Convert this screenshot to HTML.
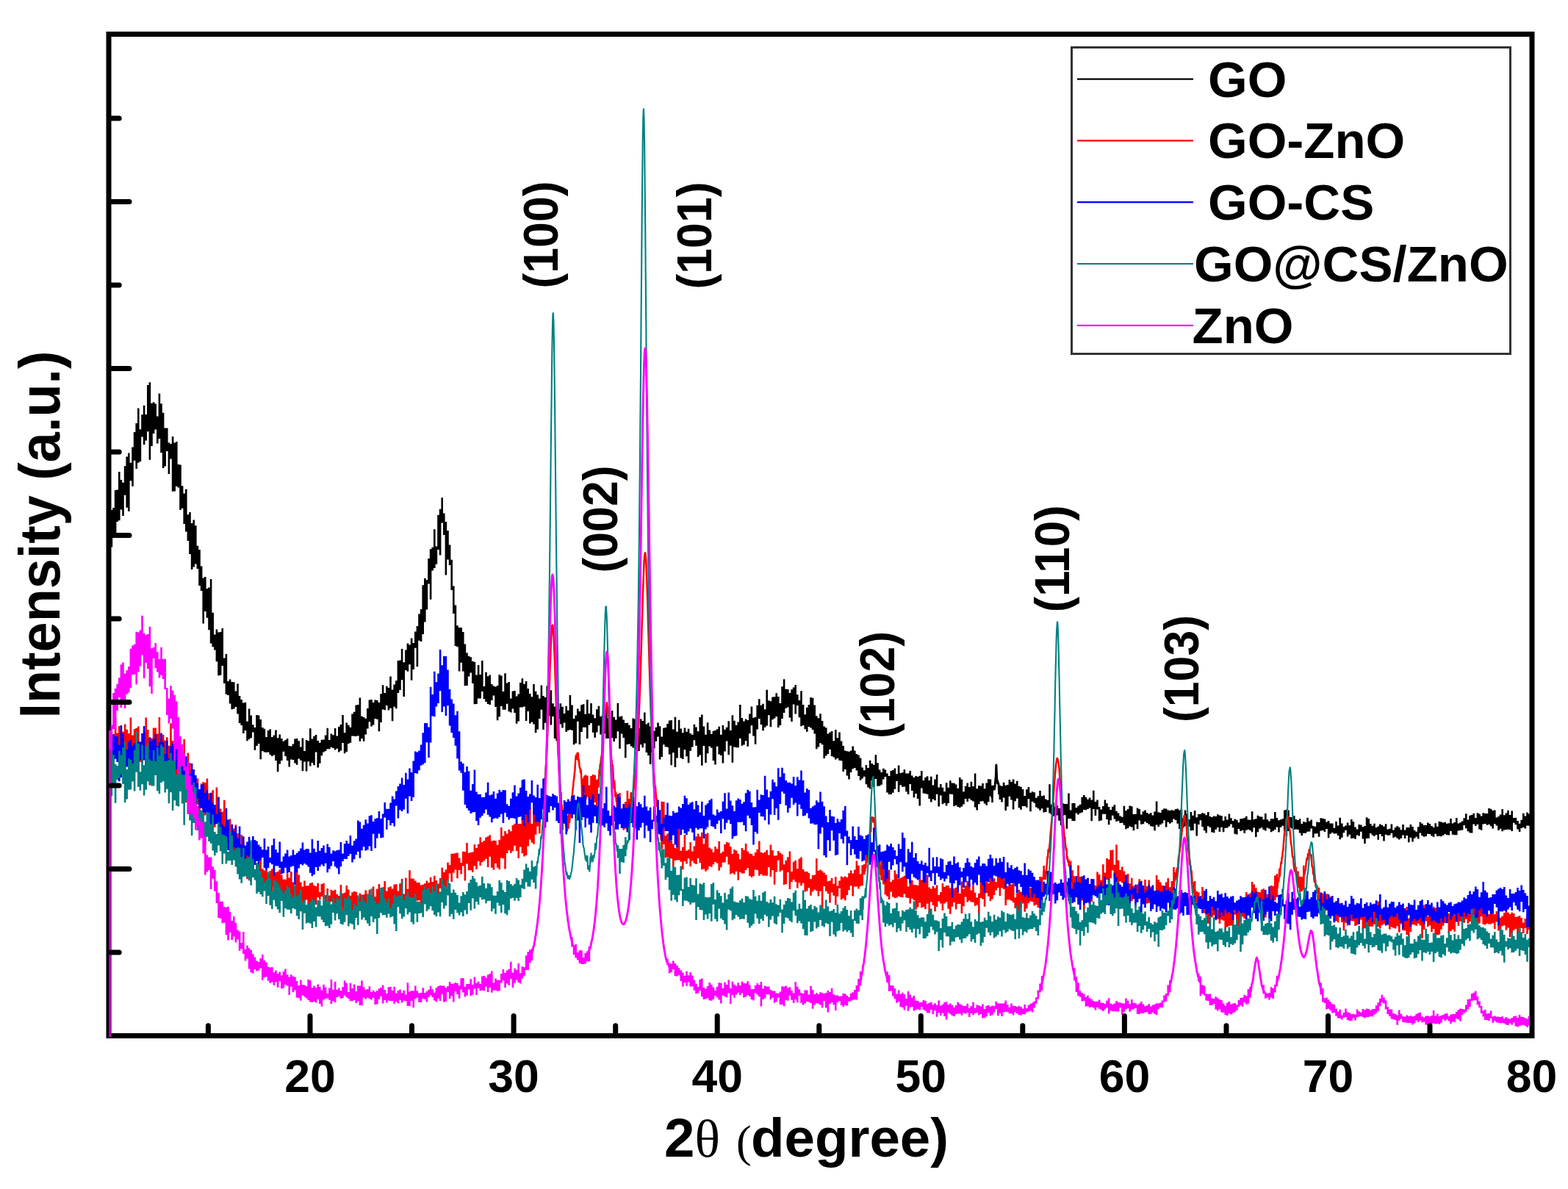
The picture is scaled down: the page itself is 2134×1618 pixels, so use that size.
<!DOCTYPE html><html><head><meta charset="utf-8"><title>XRD patterns of GO, GO-ZnO, GO-CS, GO@CS/ZnO and ZnO</title><style>html,body{margin:0;padding:0;background:#fff;overflow:hidden}svg{display:block}text{font-family:'Liberation Sans', Arial, Helvetica, sans-serif;font-weight:bold;fill:#000}</style></head><body>
<svg width="2134" height="1618" viewBox="0 0 2134 1618">
<rect x="0" y="0" width="2134" height="1618" fill="#fff"/>
<rect x="148" y="46.5" width="1937" height="1363" fill="none" stroke="#000" stroke-width="7"/>
<path fill="#000000" d="M148 697.1H150.6V694.1H153.2V691.1H155.8V666.9H158.4V666.4H161V642.1H163.6V652.9H166.2V656.7H168.8V634.3H171.4V621.6H174V616.6H176.6V629.8H179.2V608.4H181.8V588.1H184.4V576.1H187V555.4H189.6V584.2H192.2V564.2H194.8V551.7H197.4V563.9H200V524.1H202.6V520.2H205.2V548.7H207.8V547.3H210.4V549.5H213V566.6H215.6V535.5H218.2V549.2H220.8V561.8H223.4V582.5H226V582.4H228.6V602.2H231.2V604H233.8V593.9H236.4V602.5H239V601H241.6V632H244.2V632.6H246.8V661.2H249.4V671.6H252V665.7H254.6V700.3H257.2V696.9H259.8V711.9H262.4V707.6H265V715.3H267.6V742.8H270.2V747.9H272.8V770.5H275.4V786.6H278V784.9H280.6V800.9H283.2V799.5H285.8V788H288.4V833.8H291V863.4H293.6V856.6H296.2V860.4H298.8V860H301.4V855.1H304V895.4H306.6V889.9H309.2V927.1H311.8V924.4H314.4V927.9H317V928.2H319.6V940.6H322.2V930.4H324.8V947.1H327.4V951.9H330V956.4H332.6V955.7H335.2V981.7H337.8V964.6H340.4V973.5H343V986.3H345.6V990.1H348.2V973H350.8V973.5H353.4V979.1H356V989.9H358.6V991.8H361.2V1003.1H363.8V993.9H366.4V992.2H369V1003H371.6V1000.5H374.2V993.4H376.8V1004.3H379.4V999.4H382V1005.1H384.6V1008.7H387.2V1007.1H389.8V1004.9H392.4V1014.9H395V1015.6H397.6V1012.4H400.2V1005.6H402.8V1004.9H405.4V1008.2H408V1016.6H410.6V1004.5H413.2V1021.9H415.8V1007H418.4V1008.3H421V991.3H423.6V1005.6H426.2V1001.7H428.8V1000H431.4V1008.1H434V1010.8H436.6V1006.7H439.2V1006.5H441.8V1000.5H444.4V990.8H447V1006.9H449.6V998.5H452.2V1000.2H454.8V991H457.4V1001.5H460V989H462.6V986.1H465.2V973H467.8V997.3H470.4V983.4H473V986.8H475.6V989.7H478.2V971.4H480.8V968.8H483.4V959.6H486V958.9H488.6V949.6H491.2V974.7H493.8V975.9H496.4V977.7H499V964.1H501.6V952.5H504.2V952H506.8V956.1H509.4V952.6H512V953.1H514.6V956H517.2V944.2H519.8V932.2H522.4V943H525V933.8H527.6V935.9H530.2V920.4H532.8V938.5H535.4V931.6H538V926.3H540.6V899H543.2V898.6H545.8V883.1H548.4V901.3H551V884.6H553.6V875.6H556.2V877.5H558.8V868.4H561.4V874.9H564V859.6H566.6V851.9H569.2V835.5H571.8V828.9H574.4V796.2H577V786.9H579.6V789.3H582.2V760.1H584.8V747.3H587.4V744.7H590V720.3H592.6V743.6H595.2V700.7H597.8V692.8H600.4V677.3H603V698.6H605.6V710.1H608.2V722.1H610.8V741.4H613.4V761.8H616V797.4H618.6V823.6H621.2V851.2H623.8V854H626.4V854H629V860.1H631.6V876.4H634.2V888.4H636.8V892.8H639.4V894.3H642V899.8H644.6V900.7H647.2V918.5H649.8V905H652.4V917.9H655V899H657.6V934H660.2V914.8H662.8V920.3H665.4V918.6H668V930.9H670.6V933.6H673.2V934.5H675.8V933.1H678.4V918.1H681V919.5H683.6V940.9H686.2V916.2H688.8V929.4H691.4V928.1H694V950.5H696.6V940.6H699.2V939.9H701.8V947.6H704.4V944.6H707V928.9H709.6V923.3H712.2V930.8H714.8V926.9H717.4V937.1H720V944.1H722.6V948.2H725.2V931H727.8V940.7H730.4V945.4H733V950.4H735.6V932.5H738.2V946.9H740.8V949.1H743.4V933.6H746V941.3H748.6V939.3H751.2V957.3H753.8V961.4H756.4V951.3H759V965.2H761.6V957.3H764.2V961.8H766.8V971H769.4V960.8H772V966.7H774.6V946.1H777.2V959.4H779.8V978H782.4V973.4H785V964.6H787.6V968H790.2V959.3H792.8V958.2H795.4V971.7H798V952.2H800.6V970.9H803.2V957.1H805.8V972.4H808.4V977.2H811V965.3H813.6V960.8H816.2V974.9H818.8V973.5H821.4V965.4H824V965.7H826.6V977.3H829.2V993H831.8V967.1H834.4V975.8H837V979.5H839.6V956.8H842.2V975.2H844.8V974.5H847.4V979.6H850V984H852.6V983.8H855.2V986.8H857.8V991H860.4V977.5H863V978.5H865.6V995.9H868.2V991H870.8V978.2H873.4V981.1H876V969.6H878.6V985.4H881.2V983.6H883.8V988.6H886.4V989.6H889V994.7H891.6V989.8H894.2V983.4H896.8V988.2H899.4V1002.6H902V990.7H904.6V990H907.2V984.9H909.8V980.5H912.4V979.9H915V992.6H917.6V975.8H920.2V995.7H922.8V979.7H925.4V991.4H928V997.3H930.6V990.6H933.2V995.8H935.8V991.7H938.4V998.1H941V999.8H943.6V985.7H946.2V989.4H948.8V995.3H951.4V975.9H954V972.6H956.6V988.6H959.2V999.8H961.8V983.2H964.4V993.6H967V998.8H969.6V994.8H972.2V994.1H974.8V992.3H977.4V988.7H980V999.8H982.6V987H985.2V992.8H987.8V989.7H990.4V981.3H993V994.1H995.6V973.2H998.2V980.7H1000.8V986.8H1003.4V982.5H1006V959.1H1008.6V977.1H1011.2V981.4H1013.8V978.4H1016.4V980.1H1019V971.6H1021.6V961.6H1024.2V976.7H1026.8V975.8H1029.4V959.7H1032V951.3H1034.6V959.7H1037.2V957.7H1039.8V965.2H1042.4V938.8H1045V953.3H1047.6V954.2H1050.2V948.4H1052.8V948.3H1055.4V943.2H1058V948.1H1060.6V956.9H1063.2V934.3H1065.8V924.3H1068.4V937.7H1071V938.1H1073.6V942.9H1076.2V938.3H1078.8V935.4H1081.4V932H1084V945.3H1086.6V952.9H1089.2V940.3H1091.8V959H1094.4V972.2H1097V962.8H1099.6V958.9H1102.2V949H1104.8V949.7H1107.4V959.5H1110V974.3H1112.6V977.3H1115.2V971.2H1117.8V980.9H1120.4V988.5H1123V990.3H1125.6V998.5H1128.2V996.4H1130.8V995.1H1133.4V1008.3H1136V993.1H1138.6V1004.3H1141.2V996.5H1143.8V1008.5H1146.4V1015.1H1149V1021.6H1151.6V1022.3H1154.2V1022.8H1156.8V1021.5H1159.4V1015.6H1162V1021.5H1164.6V1026H1167.2V1027.6H1169.8V1031.6H1172.4V1044.4H1175V1048.2H1177.6V1041H1180.2V1044.9H1182.8V1034.7H1185.4V1038.9H1188V1040.8H1190.6V1027.2H1193.2V1038.2H1195.8V1047.6H1198.4V1050.9H1201V1045.8H1203.6V1047.6H1206.2V1052.5H1208.8V1056.1H1211.4V1049H1214V1048.1H1216.6V1045.5H1219.2V1053.2H1221.8V1041.6H1224.4V1051.9H1227V1051.3H1229.6V1047.2H1232.2V1052.6H1234.8V1052.5H1237.4V1049.1H1240V1055.6H1242.6V1058.1H1245.2V1056H1247.8V1056.9H1250.4V1055.7H1253V1048.9H1255.6V1061.9H1258.2V1058H1260.8V1056.3H1263.4V1061.9H1266V1056.7H1268.6V1068.4H1271.2V1060.5H1273.8V1053.9H1276.4V1071.6H1279V1067H1281.6V1071.8H1284.2V1077.3H1286.8V1065.2H1289.4V1071.8H1292V1062.3H1294.6V1065.4H1297.2V1065.8H1299.8V1067.5H1302.4V1072.8H1305V1058H1307.6V1060.7H1310.2V1077.3H1312.8V1069.7H1315.4V1065.5H1318V1071H1320.6V1063.8H1323.2V1070.1H1325.8V1052.6H1328.4V1073.2H1331V1069H1333.6V1069.4H1336.2V1066.1H1338.8V1073.3H1341.4V1065.5H1344V1060.3H1346.6V1060.4H1349.2V1068.7H1351.8V1091.9H1349.2V1083.6H1346.6V1091.2H1344V1095.8H1341.4V1093.5H1338.8V1090.3H1336.2V1090.5H1333.6V1094.2H1331V1102.5H1328.4V1098.5H1325.8V1090.6H1323.2V1089H1320.6V1086.8H1318V1091H1315.4V1087H1312.8V1094.4H1310.2V1097.4H1307.6V1099H1305V1098.1H1302.4V1095.7H1299.8V1096.9H1297.2V1081.1H1294.6V1080.6H1292V1093.1H1289.4V1096.4H1286.8V1092.7H1284.2V1094.3H1281.6V1082.4H1279V1097.5H1276.4V1080.7H1273.8V1089.2H1271.2V1087.5H1268.6V1091.5H1266V1086.9H1263.4V1080.7H1260.8V1080H1258.2V1079.6H1255.6V1072.4H1253V1096.4H1250.4V1087H1247.8V1080H1245.2V1085.3H1242.6V1076.1H1240V1067.1H1237.4V1080.9H1234.8V1077.3H1232.2V1070.6H1229.6V1070.8H1227V1068.2H1224.4V1077.8H1221.8V1063.1H1219.2V1073.7H1216.6V1078.8H1214V1081H1211.4V1081H1208.8V1078.5H1206.2V1057H1203.6V1060.5H1201V1067.7H1198.4V1069.5H1195.8V1069.7H1193.2V1059.9H1190.6V1071H1188V1062.2H1185.4V1073.6H1182.8V1071.4H1180.2V1067.2H1177.6V1056.8H1175V1059.6H1172.4V1061.8H1169.8V1055.9H1167.2V1048.6H1164.6V1044.9H1162V1046.2H1159.4V1051.1H1156.8V1060.4H1154.2V1055.4H1151.6V1046.9H1149V1050.1H1146.4V1035.3H1143.8V1034.7H1141.2V1031.7H1138.6V1033.5H1136V1030.5H1133.4V1028.9H1130.8V1020.1H1128.2V1025.9H1125.6V1028.6H1123V1032.1H1120.4V1013.2H1117.8V1011.3H1115.2V1016.5H1112.6V1019.3H1110V998.6H1107.4V993.1H1104.8V990.6H1102.2V988.9H1099.6V995.7H1097V992.2H1094.4V987.1H1091.8V988.2H1089.2V976.2H1086.6V960H1084V971.5H1081.4V958.5H1078.8V982H1076.2V976.6H1073.6V962.6H1071V963.7H1068.4V969.9H1065.8V977.9H1063.2V986.9H1060.6V990.1H1058V974.9H1055.4V977.5H1052.8V979.2H1050.2V989.2H1047.6V973.2H1045V987.5H1042.4V989.7H1039.8V994.3H1037.2V986.1H1034.6V977.9H1032V992.5H1029.4V1012.8H1026.8V1001.4H1024.2V987.2H1021.6V998.2H1019V1015.7H1016.4V1008.2H1013.8V1013.5H1011.2V1014.8H1008.6V1004.8H1006V1017.3H1003.4V1017.2H1000.8V1016.6H998.2V1037.7H995.6V1014.8H993V1027.2H990.4V1008.5H987.8V1022.4H985.2V1038.6H982.6V1027.9H980V1026.4H977.4V1015.8H974.8V1040.6H972.2V1035.1H969.6V1017.7H967V1015.4H964.4V1025.3H961.8V1038H959.2V1014.9H956.6V1041.8H954V1027.6H951.4V1030.1H948.8V1014.7H946.2V1007.3H943.6V1016.6H941V1021.7H938.4V1038.2H935.8V1029.2H933.2V1020.3H930.6V1032.9H928V1031.5H925.4V1017.5H922.8V1031.5H920.2V1044H917.6V1024.3H915V1041.3H912.4V1026.4H909.8V1016.8H907.2V1016.2H904.6V1013.2H902V1030.1H899.4V1033.6H896.8V1002.5H894.2V1008.8H891.6V1018.4H889V1023.6H886.4V1039.9H883.8V1028.1H881.2V1024.1H878.6V1011.6H876V1017.3H873.4V1013.2H870.8V1022H868.2V1021.8H865.6V1019.5H863V1017.5H860.4V1015.4H857.8V1012.6H855.2V1013.1H852.6V1031.3H850V1004.1H847.4V998.6H844.8V1018.7H842.2V995.2H839.6V1004.7H837V1009.1H834.4V1004.3H831.8V1007H829.2V1004.7H826.6V1004.9H824V997.9H821.4V1010.2H818.8V999.5H816.2V987.6H813.6V996.5H811V1003.7H808.4V996.7H805.8V984H803.2V986.6H800.6V1005H798V989.7H795.4V989.7H792.8V996H790.2V1012.9H787.6V981.8H785V1011.4H782.4V1013.3H779.8V993.7H777.2V992.9H774.6V994.1H772V995.9H769.4V983.6H766.8V990.6H764.2V985.4H761.6V978.2H759V1008.3H756.4V1005H753.8V974.9H751.2V986.4H748.6V974H746V989.3H743.4V983.8H740.8V992.9H738.2V965.8H735.6V978H733V992.4H730.4V997.2H727.8V985.6H725.2V982.5H722.6V984.5H720V968H717.4V981.1H714.8V961.6H712.2V962.6H709.6V962.6H707V981.5H704.4V984.8H701.8V969.9H699.2V964.5H696.6V969.6H694V968.2H691.4V957.8H688.8V965.7H686.2V965.8H683.6V961H681V975.3H678.4V980.3H675.8V962H673.2V946.5H670.6V952.9H668V958.9H665.4V958.1H662.8V955.1H660.2V951.2H657.6V940.9H655V950.6H652.4V950.4H649.8V958H647.2V958.3H644.6V929.9H642V915.5H639.4V920.5H636.8V932.9H634.2V933.2H631.6V913.5H629V901.7H626.4V913.4H623.8V880.3H621.2V878.9H618.6V835H616V803.1H613.4V769.1H610.8V761.6H608.2V782.5H605.6V727.9H603V711.6H600.4V755.4H597.8V748H595.2V767.7H592.6V773.1H590V776.6H587.4V815.8H584.8V794.5H582.2V829.5H579.6V846.6H577V863H574.4V873.1H571.8V871.7H569.2V907.3H566.6V881.7H564V910.9H561.4V925.7H558.8V904.3H556.2V913.8H553.6V911.9H551V948H548.4V925.2H545.8V938.9H543.2V943.1H540.6V964.2H538V961.7H535.4V981.2H532.8V963.7H530.2V966.6H527.6V960.1H525V966.2H522.4V965.5H519.8V983.1H517.2V995.2H514.6V978.8H512V978.1H509.4V986.5H506.8V988.6H504.2V982.2H501.6V991.6H499V999.6H496.4V1008.8H493.8V1004.9H491.2V1008.8H488.6V1001.3H486V1002.1H483.4V1001.8H480.8V1001.4H478.2V1010.8H475.6V1011.9H473V1023H470.4V1025.2H467.8V1010.9H465.2V1021.4H462.6V1023.5H460V1018.8H457.4V1020.4H454.8V1018H452.2V1016.7H449.6V1019.2H447V1019.2H444.4V1022.1H441.8V1023.6H439.2V1028.2H436.6V1038.8H434V1044.6H431.4V1023.6H428.8V1041.2H426.2V1037.9H423.6V1042.5H421V1036.3H418.4V1049.5H415.8V1036.5H413.2V1049.3H410.6V1034.8H408V1032.5H405.4V1040.8H402.8V1038.6H400.2V1033.9H397.6V1033.5H395V1043.4H392.4V1035.1H389.8V1029.1H387.2V1022.8H384.6V1034.9H382V1039.4H379.4V1050.2H376.8V1035.1H374.2V1027.4H371.6V1029.1H369V1027.1H366.4V1023.6H363.8V1024H361.2V1023.4H358.6V1022H356V1033.3H353.4V1011.9H350.8V1015H348.2V1020.8H345.6V996.6H343V1004.2H340.4V1006H337.8V1008.3H335.2V994.1H332.6V997.9H330V987.1H327.4V984H324.8V971.6H322.2V962H319.6V964.4H317V965.2H314.4V957.4H311.8V946.1H309.2V944.7H306.6V929.9H304V905.9H301.4V918.7H298.8V919.3H296.2V900.2H293.6V884.4H291V880.3H288.4V875.6H285.8V857.3H283.2V840.8H280.6V832H278V848.6H275.4V804.1H272.8V797.1H270.2V773.9H267.6V767.5H265V771.6H262.4V775.1H259.8V754H257.2V736H254.6V723.5H252V713.1H249.4V691.7H246.8V693.9H244.2V663.5H241.6V661.8H239V668.6H236.4V668.7H233.8V624.4H231.2V645H228.6V614H226V634.6H223.4V636.9H220.8V616H218.2V597.1H215.6V603.5H213V584.4H210.4V590.1H207.8V607.1H205.2V625.7H202.6V587.2H200V599.4H197.4V605H194.8V594.4H192.2V627.9H189.6V629.7H187V637.9H184.4V626.7H181.8V661.7H179.2V654.3H176.6V695.7H174V690.7H171.4V673.7H168.8V702H166.2V693.4H163.6V708.2H161V710.1H158.4V726.5H155.8V725H153.2V744.5H150.6V725H148ZM1359.6 1068.8H1362.2V1069.8H1364.8V1064.7H1367.4V1068.7H1370V1067.9H1372.6V1061H1375.2V1064H1377.8V1060.5H1380.4V1066.4H1383V1062.7H1385.6V1069.8H1388.2V1070.7H1390.8V1074H1393.4V1083.1H1396V1074.2H1398.6V1070.9H1401.2V1078.7H1403.8V1077.2H1406.4V1078.2H1409V1085.7H1411.6V1083.3H1414.2V1076H1416.8V1083.2H1419.4V1082.6H1422V1087.5H1424.6V1088.8H1427.2V1067.3H1429.8V1094.8H1432.4V1092.1H1435V1098.3H1437.6V1095.9H1440.2V1100H1442.8V1100.1H1445.4V1093.3H1448V1093.9H1450.6V1093.9H1453.2V1079.5H1455.8V1102.5H1458.4V1093H1461V1093.1H1463.6V1099.3H1466.2V1096.7H1468.8V1094.8H1471.4V1084.8H1474V1081.9H1476.6V1084.8H1479.2V1087.8H1481.8V1085.5H1484.4V1088.6H1487V1075.8H1489.6V1091.1H1492.2V1088.6H1494.8V1098H1497.4V1101.4H1500V1096.9H1502.6V1088.6H1505.2V1093.2H1507.8V1098H1510.4V1101.9H1513V1097.7H1515.6V1095.3H1518.2V1103.8H1520.8V1106.6H1523.4V1110.6H1526V1111.7H1528.6V1096.8H1531.2V1103.3H1533.8V1100.9H1536.4V1096.4H1539V1097.2H1541.6V1108H1544.2V1107.8H1546.8V1099.6H1549.4V1101.1H1552V1108.5H1554.6V1104.3H1557.2V1102.5H1559.8V1106H1562.4V1107.5H1565V1106.3H1567.6V1109.6H1570.2V1104.6H1572.8V1090.6H1575.4V1105.3H1578V1106H1580.6V1101.9H1583.2V1100.2H1585.8V1100.5H1588.4V1102.5H1591V1102.9H1593.6V1102.2H1596.2V1103H1598.8V1101.1H1601.4V1100.6H1604V1102.6H1606.6V1101.1H1609.2V1113.7H1611.8V1102.4H1614.4V1107.6H1617V1115.2H1619.6V1105.1H1622.2V1109.8H1624.8V1102.9H1627.4V1112.2H1630V1107.9H1632.6V1107.7H1635.2V1106.3H1637.8V1107.1H1640.4V1109.3H1643V1105H1645.6V1111H1648.2V1111.9H1650.8V1110.4H1653.4V1111.1H1656V1108.3H1658.6V1109.4H1661.2V1110.2H1663.8V1116.8H1666.4V1111H1669V1115.5H1671.6V1107.6H1674.2V1113.2H1676.8V1116.9H1679.4V1114.6H1682V1115.8H1684.6V1119.3H1687.2V1114.3H1689.8V1114.1H1692.4V1112.9H1695V1110.8H1697.6V1115.6H1700.2V1115.7H1702.8V1104.2H1705.4V1115H1708V1114.2H1710.6V1109.7H1713.2V1111.3H1715.8V1111.5H1718.4V1115.2H1721V1107.1H1723.6V1115.3H1726.2V1117.4H1728.8V1114.1H1731.4V1114.3H1734V1104.9H1736.6V1112.9H1739.2V1116.2H1741.8V1115.3H1744.4V1114.3H1747V1102.5H1749.6V1101.8H1752.2V1102.5H1754.8V1111.9H1757.4V1112.1H1760V1110.2H1762.6V1115H1765.2V1116.1H1767.8V1114.3H1770.4V1121H1773V1118H1775.6V1119H1778.2V1112.8H1780.8V1117.5H1783.4V1115.5H1786V1123.9H1788.6V1124.8H1791.2V1118.5H1793.8V1119H1796.4V1113.3H1799V1113.8H1801.6V1114.5H1804.2V1118.4H1806.8V1117.1H1809.4V1120.4H1812V1120.4H1814.6V1126.8H1817.2V1118.1H1819.8V1123.4H1822.4V1112.8H1825V1120.5H1827.6V1124.9H1830.2V1123.5H1832.8V1119.6H1835.4V1123.2H1838V1114.9H1840.6V1118H1843.2V1125.5H1845.8V1128.5H1848.4V1122.1H1851V1122.4H1853.6V1125.2H1856.2V1124H1858.8V1112.2H1861.4V1114H1864V1121H1866.6V1123.8H1869.2V1120.7H1871.8V1126H1874.4V1124.6H1877V1121.4H1879.6V1122.7H1882.2V1124.7H1884.8V1121.3H1887.4V1128.5H1890V1127.7H1892.6V1121.5H1895.2V1129.6H1897.8V1126.1H1900.4V1124.1H1903V1125.7H1905.6V1129.2H1908.2V1122H1910.8V1129.6H1913.4V1126H1916V1126H1918.6V1122H1921.2V1125.1H1923.8V1129.8H1926.4V1131.8H1929V1125.2H1931.6V1118.7H1934.2V1120.8H1936.8V1123H1939.4V1122.9H1942V1119.6H1944.6V1121H1947.2V1123.9H1949.8V1126H1952.4V1120.2H1955V1124.8H1957.6V1117.8H1960.2V1118.6H1962.8V1119.5H1965.4V1118.7H1968V1120.7H1970.6V1120.3H1973.2V1114.1H1975.8V1120.4H1978.4V1119.1H1981V1112.9H1983.6V1120.5H1986.2V1119.3H1988.8V1117.4H1991.4V1113.2H1994V1107.2H1996.6V1115.4H1999.2V1109.7H2001.8V1109.1H2004.4V1106.7H2007V1113H2009.6V1106.2H2012.2V1107.6H2014.8V1110.4H2017.4V1106.2H2020V1106.9H2022.6V1107H2025.2V1100H2027.8V1100.7H2030.4V1102.9H2033V1102.6H2035.6V1112.6H2038.2V1111.1H2040.8V1108.6H2043.4V1100.9H2046V1109.3H2048.6V1106.6H2051.2V1102.7H2053.8V1109H2056.4V1103.6H2059V1112.9H2061.6V1112.7H2064.2V1116.9H2066.8V1120.7H2069.4V1115.7H2072V1106.8H2074.6V1110.4H2077.2V1105.6H2079.8V1107.4H2082V1123.8H2079.8V1123.5H2077.2V1127.4H2074.6V1125.8H2072V1127H2069.4V1131.9H2066.8V1128.5H2064.2V1122.2H2061.6V1119.8H2059V1131.1H2056.4V1129H2053.8V1128.7H2051.2V1129H2048.6V1129.5H2046V1131.2H2043.4V1127.7H2040.8V1130.1H2038.2V1123.4H2035.6V1121.3H2033V1127.4H2030.4V1124.2H2027.8V1122.1H2025.2V1122.7H2022.6V1121.1H2020V1121.6H2017.4V1129.8H2014.8V1128.5H2012.2V1121.7H2009.6V1123.9H2007V1121.6H2004.4V1133.5H2001.8V1133.3H1999.2V1131.2H1996.6V1127.3H1994V1122.9H1991.4V1129.4H1988.8V1130.1H1986.2V1130.6H1983.6V1136.2H1981V1136.2H1978.4V1135.8H1975.8V1130.9H1973.2V1136.5H1970.6V1136.2H1968V1134.9H1965.4V1136.7H1962.8V1138.2H1960.2V1137.8H1957.6V1138.1H1955V1134.7H1952.4V1139.1H1949.8V1137.5H1947.2V1134.9H1944.6V1134.8H1942V1138H1939.4V1138.7H1936.8V1137.3H1934.2V1133.4H1931.6V1141.6H1929V1138.8H1926.4V1140.7H1923.8V1145.6H1921.2V1139.7H1918.6V1146.2H1916V1137H1913.4V1140.9H1910.8V1136.6H1908.2V1140.8H1905.6V1142.4H1903V1140.7H1900.4V1138.7H1897.8V1140.1H1895.2V1133.8H1892.6V1136.4H1890V1136.7H1887.4V1135.8H1884.8V1144.6H1882.2V1138.1H1879.6V1135H1877V1142.7H1874.4V1136.1H1871.8V1138H1869.2V1136.5H1866.6V1134.1H1864V1140.8H1861.4V1140.9H1858.8V1147.9H1856.2V1141.6H1853.6V1131.8H1851V1137.4H1848.4V1136.4H1845.8V1141.8H1843.2V1140.4H1840.6V1141.1H1838V1135.8H1835.4V1138.4H1832.8V1129.7H1830.2V1133.2H1827.6V1139.7H1825V1142.3H1822.4V1137.1H1819.8V1134.2H1817.2V1134.4H1814.6V1133.1H1812V1134.7H1809.4V1140.3H1806.8V1128.1H1804.2V1132.1H1801.6V1130.1H1799V1130.5H1796.4V1138.8H1793.8V1134.3H1791.2V1134.5H1788.6V1139.7H1786V1127.4H1783.4V1131.4H1780.8V1131.7H1778.2V1133.7H1775.6V1133.7H1773V1136.9H1770.4V1133.4H1767.8V1128.9H1765.2V1128.5H1762.6V1129H1760V1127.6H1757.4V1126.3H1754.8V1130.9H1752.2V1137.5H1749.6V1130.9H1747V1123.7H1744.4V1125.7H1741.8V1132.4H1739.2V1125.6H1736.6V1129.1H1734V1130.8H1731.4V1132.3H1728.8V1127.8H1726.2V1126.5H1723.6V1130.6H1721V1129.1H1718.4V1126.2H1715.8V1127.6H1713.2V1132.3H1710.6V1139H1708V1126.3H1705.4V1132.2H1702.8V1130H1700.2V1128.8H1697.6V1129.7H1695V1133.8H1692.4V1129.7H1689.8V1130.9H1687.2V1127.9H1684.6V1135.5H1682V1134.7H1679.4V1126.2H1676.8V1121.4H1674.2V1124.4H1671.6V1126.4H1669V1126.7H1666.4V1132.2H1663.8V1125.7H1661.2V1132H1658.6V1125.9H1656V1128.8H1653.4V1133.3H1650.8V1132.6H1648.2V1125.9H1645.6V1124.3H1643V1133.6H1640.4V1130.3H1637.8V1125H1635.2V1116.2H1632.6V1121.9H1630V1137.6H1627.4V1120.7H1624.8V1130H1622.2V1130.2H1619.6V1125.1H1617V1124.3H1614.4V1124.3H1611.8V1126.3H1609.2V1131.6H1606.6V1128H1604V1120.7H1601.4V1115.9H1598.8V1114.6H1596.2V1118.9H1593.6V1120.8H1591V1118.7H1588.4V1125.5H1585.8V1116.3H1583.2V1120.6H1580.6V1122.3H1578V1125.1H1575.4V1122.5H1572.8V1130.2H1570.2V1124.7H1567.6V1124.2H1565V1121.7H1562.4V1120.1H1559.8V1118.3H1557.2V1121.2H1554.6V1121.7H1552V1116.4H1549.4V1128H1546.8V1121.7H1544.2V1130.2H1541.6V1125.6H1539V1124.4H1536.4V1127.1H1533.8V1128.2H1531.2V1122.7H1528.6V1119.8H1526V1120.1H1523.4V1117H1520.8V1118.1H1518.2V1114.6H1515.6V1109.8H1513V1116.2H1510.4V1122.3H1507.8V1115H1505.2V1107.7H1502.6V1107.7H1500V1116.5H1497.4V1117.3H1494.8V1101.6H1492.2V1110H1489.6V1101.1H1487V1117.2H1484.4V1099.5H1481.8V1100.9H1479.2V1102.3H1476.6V1102.1H1474V1105.6H1471.4V1106.4H1468.8V1108.5H1466.2V1106.6H1463.6V1117.3H1461V1117H1458.4V1114.1H1455.8V1114.1H1453.2V1127.8H1450.6V1109.3H1448V1109.8H1445.4V1123H1442.8V1116.7H1440.2V1109.6H1437.6V1109.5H1435V1110.8H1432.4V1108.4H1429.8V1106.4H1427.2V1099H1424.6V1105.1H1422V1105.5H1419.4V1100.2H1416.8V1102.7H1414.2V1100.2H1411.6V1098.6H1409V1092.8H1406.4V1090.8H1403.8V1104.3H1401.2V1087.2H1398.6V1098.8H1396V1097.1H1393.4V1097.1H1390.8V1101.8H1388.2V1099.2H1385.6V1086.4H1383V1090.2H1380.4V1101.4H1377.8V1088.5H1375.2V1083.8H1372.6V1097.6H1370V1102.9H1367.4V1085.5H1364.8V1091.6H1362.2V1087.9H1359.6Z"/>
<polyline fill="none" stroke="#000000" stroke-width="2.8" stroke-linejoin="round" points="1349.6,1085.6 1350.2,1079.2 1350.7,1076.1 1351.3,1073.4 1351.8,1072.6 1352.4,1070.2 1353,1072.5 1353.5,1074.1 1354.1,1070.7 1354.6,1062 1355.2,1057.2 1355.7,1041 1356,1040.9 1356.3,1048.3 1356.8,1059 1357.4,1065.9 1357.9,1062.8 1358.5,1066.4 1359,1066.3 1359.6,1080.2 1360.2,1072.6 1360.7,1077.5 1361.3,1074.1 1361.8,1078.1 1362.4,1085.4"/>
<path fill="#ff0000" d="M148 1005.9H150.6V999.1H153.2V1006.4H155.8V976.8H158.4V997.5H161V988.1H163.6V993.4H166.2V995.7H168.8V985.4H171.4V992.7H174V997.9H176.6V976.5H179.2V1000.4H181.8V991.9H184.4V990.7H187V988.4H189.6V1009.2H192.2V1008.4H194.8V996H197.4V976.5H200V993.1H202.6V1004.4H205.2V1004.6H207.8V990.4H210.4V990.5H213V998.4H215.6V976H218.2V1006.1H220.8V999.8H223.4V1007.6H226V1003.3H228.6V1014.7H231.2V984.2H233.8V1008H236.4V1018.1H239V1019.3H241.6V1013H244.2V1013.6H246.8V1035.3H249.4V1006.1H252V1038.2H254.6V1024.6H257.2V1038.2H259.8V1047.6H262.4V1048.1H265V1058.9H267.6V1059.2H270.2V1081.9H272.8V1066.3H275.4V1064.1H278V1064.9H280.6V1059.4H283.2V1079.4H285.8V1078.7H288.4V1075.2H291V1095.7H293.6V1071.4H296.2V1094.5H298.8V1100.6H301.4V1104.7H304V1088.7H306.6V1121.9H309.2V1124.3H311.8V1114.6H314.4V1135.2H317V1127.6H319.6V1122.3H322.2V1133.9H324.8V1148.8H327.4V1136.1H330V1146.5H332.6V1156.7H335.2V1161.1H337.8V1150.8H340.4V1168.1H343V1167.4H345.6V1157.4H348.2V1174.7H350.8V1176.7H353.4V1168.5H356V1182.3H358.6V1184.4H361.2V1180.8H363.8V1188.5H366.4V1185.1H369V1182.4H371.6V1179.5H374.2V1187H376.8V1186.1H379.4V1183.2H382V1190.8H384.6V1196.4H387.2V1196.7H389.8V1188.3H392.4V1194.6H395V1186.2H397.6V1200.6H400.2V1206.2H402.8V1185.4H405.4V1190.6H408V1200.6H410.6V1206.6H413.2V1198.4H415.8V1205.6H418.4V1204.9H421V1201.7H423.6V1201.1H426.2V1204.7H428.8V1205.9H431.4V1201.8H434V1214H436.6V1202.9H439.2V1201.7H441.8V1218H444.4V1209.1H447V1218.6H449.6V1210.7H452.2V1212.2H454.8V1210.7H457.4V1216.8H460V1218.9H462.6V1203.9H465.2V1215.8H467.8V1214.7H470.4V1205H473V1210.5H475.6V1218.8H478.2V1214.2H480.8V1212.9H483.4V1213.7H486V1222.2H488.6V1215.6H491.2V1217.8H493.8V1217.3H496.4V1211.4H499V1223.7H501.6V1210.7H504.2V1218.4H506.8V1206.6H509.4V1220H512V1209.8H514.6V1203H517.2V1213.2H519.8V1207.2H522.4V1199H525V1212.4H527.6V1207.5H530.2V1206.3H532.8V1209.6H535.4V1203.5H538V1203.2H540.6V1212.6H543.2V1202.3H545.8V1195.9H548.4V1216.6H551V1194.4H553.6V1209.8H556.2V1184.2H558.8V1195.6H561.4V1195.8H564V1198.4H566.6V1201.1H569.2V1201.1H571.8V1204.5H574.4V1203.8H577V1202.2H579.6V1198.4H582.2V1201.2H584.8V1193.7H587.4V1199.9H590V1191.8H592.6V1198.1H595.2V1202.4H597.8V1195H600.4V1180.8H603V1186.9H605.6V1183.4H608.2V1173.8H610.8V1177.2H613.4V1161.7H616V1161.7H618.6V1160.9H621.2V1160.6H623.8V1167.5H626.4V1173.9H629V1158.8H631.6V1159.1H634.2V1146.9H636.8V1160.7H639.4V1159.9H642V1159.4H644.6V1149H647.2V1154.1H649.8V1148.8H652.4V1139.3H655V1146H657.6V1144.1H660.2V1139.5H662.8V1138.3H665.4V1136.3H668V1144.4H670.6V1143.8H673.2V1144H675.8V1149.8H678.4V1142.9H681V1126H683.6V1137.6H686.2V1131H688.8V1134.6H691.4V1128.8H694V1131.3H696.6V1122.9H699.2V1121H701.8V1112H704.4V1121H707V1121H709.6V1114.1H712.2V1121.3H714.8V1104.5H717.4V1107.4H720V1100.4H722.6V1121H725.2V1090H727.8V1102.1H730.4V1091.6H733V1093.9H735.6V1134.3H733V1124.4H730.4V1135.7H727.8V1148.8H725.2V1146.4H722.6V1142.5H720V1151.4H717.4V1164H714.8V1165.4H712.2V1161.3H709.6V1152.5H707V1167.8H704.4V1158H701.8V1150.8H699.2V1158.3H696.6V1160.8H694V1157.1H691.4V1161H688.8V1182.6H686.2V1168.2H683.6V1167.4H681V1183.3H678.4V1180.8H675.8V1174.9H673.2V1183.7H670.6V1180.8H668V1165.8H665.4V1180H662.8V1168.7H660.2V1171.2H657.6V1173.3H655V1178.1H652.4V1171.9H649.8V1182.9H647.2V1178.4H644.6V1187.1H642V1184.2H639.4V1184.3H636.8V1175.6H634.2V1198.5H631.6V1178.6H629V1189.4H626.4V1184H623.8V1195.2H621.2V1183.4H618.6V1187.8H616V1200H613.4V1188.5H610.8V1198.4H608.2V1208.6H605.6V1206.5H603V1211.8H600.4V1209.1H597.8V1216.5H595.2V1215.9H592.6V1217.1H590V1220.1H587.4V1218.4H584.8V1221.9H582.2V1228H579.6V1220.6H577V1229.5H574.4V1234.4H571.8V1225.2H569.2V1225.7H566.6V1224.5H564V1225.9H561.4V1225.5H558.8V1229.3H556.2V1232H553.6V1222.7H551V1229.7H548.4V1228.1H545.8V1229.8H543.2V1230.9H540.6V1226H538V1236.6H535.4V1245.9H532.8V1240.1H530.2V1236.7H527.6V1235.4H525V1238.3H522.4V1245H519.8V1231.8H517.2V1236.4H514.6V1234H512V1235.9H509.4V1237.8H506.8V1242.8H504.2V1241.2H501.6V1245H499V1244.6H496.4V1236.7H493.8V1243.1H491.2V1235.9H488.6V1244.8H486V1234.7H483.4V1252.6H480.8V1247.7H478.2V1247H475.6V1237.3H473V1240H470.4V1235.3H467.8V1248.7H465.2V1234.3H462.6V1234.4H460V1242.1H457.4V1246.1H454.8V1240.5H452.2V1227.1H449.6V1228.7H447V1226.1H444.4V1234.1H441.8V1222.1H439.2V1220.1H436.6V1224.6H434V1221.3H431.4V1231H428.8V1227.8H426.2V1231.2H423.6V1227.2H421V1239.8H418.4V1224.4H415.8V1227.2H413.2V1231.2H410.6V1226.6H408V1220.9H405.4V1227.5H402.8V1219.7H400.2V1221.5H397.6V1233.6H395V1231.4H392.4V1218.2H389.8V1220.2H387.2V1222.5H384.6V1215.4H382V1217.8H379.4V1213.1H376.8V1228.5H374.2V1206.6H371.6V1215.6H369V1217.1H366.4V1214.9H363.8V1211.5H361.2V1205H358.6V1205.8H356V1195.2H353.4V1200.4H350.8V1198.7H348.2V1176.9H345.6V1190.2H343V1200H340.4V1192H337.8V1196.2H335.2V1179.6H332.6V1177.2H330V1169.3H327.4V1180.6H324.8V1170.5H322.2V1170.9H319.6V1168.9H317V1158.8H314.4V1147.9H311.8V1144.6H309.2V1143.4H306.6V1143.9H304V1133.5H301.4V1124.6H298.8V1140.7H296.2V1118.8H293.6V1125.7H291V1118.9H288.4V1135.3H285.8V1106.7H283.2V1100.6H280.6V1109.4H278V1104.3H275.4V1098.6H272.8V1114.3H270.2V1095H267.6V1099.5H265V1086.1H262.4V1073.2H259.8V1078.3H257.2V1079.6H254.6V1092H252V1043.7H249.4V1076.9H246.8V1064.2H244.2V1065.6H241.6V1070.1H239V1059.2H236.4V1035.9H233.8V1045.1H231.2V1048H228.6V1039.4H226V1042.8H223.4V1055.4H220.8V1035.9H218.2V1035.4H215.6V1021.2H213V1017.7H210.4V1025.9H207.8V1029.3H205.2V1068.5H202.6V1036.5H200V1054.7H197.4V1031.2H194.8V1025.5H192.2V1036.7H189.6V1038.4H187V1038.8H184.4V1016.9H181.8V1026.3H179.2V1017.1H176.6V1025.3H174V1026.6H171.4V1032.9H168.8V1036.1H166.2V1023.4H163.6V1048.6H161V1026.3H158.4V1014.6H155.8V1046.1H153.2V1028.5H150.6V1034.4H148ZM795.4 1054.5H798V1055.6H800.6V1068.4H803.2V1055.9H805.8V1053.9H808.4V1054.8H811V1060.8H813.6V1103.3H811V1091.9H808.4V1102.5H805.8V1099.3H803.2V1086.5H800.6V1084.5H798V1096.6H795.4ZM839.6 1085.3H842.2V1079.1H844.8V1100H847.4V1097.9H850V1090.9H852.6V1076H855.2V1087.1H857.8V1109.2H855.2V1131.8H852.6V1127.8H850V1129.6H847.4V1115.7H844.8V1113.8H842.2V1106.1H839.6ZM899.4 1090.8H902V1091.1H904.6V1137.2H907.2V1134.4H909.8V1143.5H912.4V1143.4H915V1148.5H917.6V1154.1H920.2V1154.3H922.8V1121.9H925.4V1157.8H928V1152.8H930.6V1136.1H933.2V1157.7H935.8V1156H938.4V1146.1H941V1158.4H943.6V1151.6H946.2V1138.2H948.8V1134.6H951.4V1138.5H954V1132.8H956.6V1148.6H959.2V1134.8H961.8V1133.6H964.4V1153.4H967V1155.4H969.6V1159.7H972.2V1151.9H974.8V1155.2H977.4V1144.8H980V1161.1H982.6V1158.8H985.2V1148.9H987.8V1146.1H990.4V1146.7H993V1152.1H995.6V1162.1H998.2V1155.9H1000.8V1157.5H1003.4V1161.7H1006V1169.3H1008.6V1154.1H1011.2V1156.8H1013.8V1148.1H1016.4V1158.4H1019V1161.4H1021.6V1162.1H1024.2V1164.7H1026.8V1159.9H1029.4V1155.8H1032V1144.4H1034.6V1159.7H1037.2V1160.7H1039.8V1159.4H1042.4V1156.8H1045V1163.6H1047.6V1149.4H1050.2V1156.9H1052.8V1164.4H1055.4V1164.2H1058V1158H1060.6V1160.5H1063.2V1162.4H1065.8V1176.3H1068.4V1170.7H1071V1166.6H1073.6V1158.6H1076.2V1186H1078.8V1172.7H1081.4V1170.7H1084V1182.3H1086.6V1168.6H1089.2V1166.4H1091.8V1183H1094.4V1186H1097V1186H1099.6V1187.9H1102.2V1196.3H1104.8V1190.9H1107.4V1190.6H1110V1168.3H1112.6V1185H1115.2V1183.6H1117.8V1185.5H1120.4V1187.7H1123V1190.6H1125.6V1199.2H1128.2V1198.4H1130.8V1194.9H1133.4V1202.8H1136V1193.2H1138.6V1205.6H1141.2V1198.6H1143.8V1192.4H1146.4V1193.9H1149V1192.4H1151.6V1194.1H1154.2V1188.3H1156.8V1184.5H1159.4V1188.6H1162V1183.4H1164.6V1171.6H1167.2V1177.8H1169.8V1189.5H1172.4V1177.3H1175V1175.9H1177.6V1190.3H1175V1204.9H1172.4V1206.1H1169.8V1209.5H1167.2V1206.5H1164.6V1206.5H1162V1219.6H1159.4V1205.2H1156.8V1211.2H1154.2V1217.9H1151.6V1225.2H1149V1222.4H1146.4V1224.2H1143.8V1208.7H1141.2V1220.1H1138.6V1231.6H1136V1218.8H1133.4V1214.6H1130.8V1228.5H1128.2V1216H1125.6V1212.7H1123V1206.1H1120.4V1240.3H1117.8V1212.7H1115.2V1219.5H1112.6V1212.3H1110V1210.7H1107.4V1213.3H1104.8V1218.8H1102.2V1208.3H1099.6V1212.6H1097V1213.6H1094.4V1201.8H1091.8V1205.3H1089.2V1201.3H1086.6V1208.4H1084V1200H1081.4V1197.1H1078.8V1200.2H1076.2V1210.1H1073.6V1186.9H1071V1203.1H1068.4V1204.1H1065.8V1184.2H1063.2V1186.1H1060.6V1170.8H1058V1186.6H1055.4V1203.8H1052.8V1183.9H1050.2V1193H1047.6V1180.1H1045V1191.8H1042.4V1191.4H1039.8V1191.5H1037.2V1189.5H1034.6V1191.8H1032V1183.9H1029.4V1183.6H1026.8V1192.2H1024.2V1194H1021.6V1191.9H1019V1181.3H1016.4V1183.9H1013.8V1188.6H1011.2V1188.5H1008.6V1186.8H1006V1197.7H1003.4V1185.9H1000.8V1190.1H998.2V1188H995.6V1189.4H993V1176.6H990.4V1165.7H987.8V1173.5H985.2V1173.7H982.6V1180.2H980V1184.7H977.4V1174.8H974.8V1172.9H972.2V1176.2H969.6V1179.8H967V1178.7H964.4V1183.5H961.8V1185.8H959.2V1182.5H956.6V1183.2H954V1174.3H951.4V1168.1H948.8V1176H946.2V1174.8H943.6V1171.5H941V1179.1H938.4V1168.3H935.8V1175.6H933.2V1172.1H930.6V1183.3H928V1172.8H925.4V1170.2H922.8V1170.6H920.2V1171H917.6V1191.6H915V1168.5H912.4V1167.2H909.8V1166.6H907.2V1167.3H904.6V1149.1H902V1155.6H899.4ZM1198.4 1172H1201V1173.2H1203.6V1191.6H1206.2V1187.6H1208.8V1183.7H1211.4V1200H1214V1197.3H1216.6V1184.5H1219.2V1189.5H1221.8V1195.5H1224.4V1194.7H1227V1193.4H1229.6V1191.8H1232.2V1192.9H1234.8V1206.6H1237.4V1189.4H1240V1197.7H1242.6V1204.1H1245.2V1204.2H1247.8V1205H1250.4V1184.8H1253V1197.3H1255.6V1198.1H1258.2V1200.9H1260.8V1190.4H1263.4V1207.5H1266V1209.4H1268.6V1205.8H1271.2V1208.4H1273.8V1204.4H1276.4V1218H1279V1214H1281.6V1201.9H1284.2V1207.1H1286.8V1205.1H1289.4V1205.1H1292V1208.4H1294.6V1197.5H1297.2V1208.9H1299.8V1207.8H1302.4V1206.7H1305V1216H1307.6V1199.4H1310.2V1209.8H1312.8V1205.2H1315.4V1199H1318V1202.3H1320.6V1211.4H1323.2V1204.4H1325.8V1214.7H1328.4V1221.5H1331V1215.7H1333.6V1199.1H1336.2V1197.1H1338.8V1201.6H1341.4V1191.2H1344V1202.1H1346.6V1190.5H1349.2V1196.7H1351.8V1195.3H1354.4V1200.2H1357V1188.3H1359.6V1186.8H1362.2V1181.7H1364.8V1183.9H1367.4V1199.6H1370V1205.9H1372.6V1201.5H1375.2V1203.6H1377.8V1201H1380.4V1221.2H1383V1215.6H1385.6V1210.8H1388.2V1213.5H1390.8V1213.5H1393.4V1214.8H1396V1217H1398.6V1215.3H1401.2V1208.1H1403.8V1209.6H1406.4V1195.9H1409V1201.7H1411.6V1202H1414.2V1192.9H1416.8V1193.5H1419.4V1178H1422V1196.9H1419.4V1220.4H1416.8V1227.5H1414.2V1234.9H1411.6V1231.3H1409V1232.3H1406.4V1227.3H1403.8V1226.6H1401.2V1229.3H1398.6V1236.2H1396V1240.8H1393.4V1229.5H1390.8V1235.2H1388.2V1239.1H1385.6V1238.4H1383V1235.9H1380.4V1228.2H1377.8V1225.8H1375.2V1224.3H1372.6V1224.5H1370V1232.1H1367.4V1210H1364.8V1208.2H1362.2V1218.9H1359.6V1208.3H1357V1211.4H1354.4V1218H1351.8V1223.6H1349.2V1226.2H1346.6V1219.7H1344V1215.2H1341.4V1233.7H1338.8V1223.5H1336.2V1222H1333.6V1244.5H1331V1231.4H1328.4V1232.7H1325.8V1227.8H1323.2V1227.6H1320.6V1225.6H1318V1227.4H1315.4V1220.6H1312.8V1233.2H1310.2V1243H1307.6V1230H1305V1229.9H1302.4V1237.5H1299.8V1228.1H1297.2V1233.7H1294.6V1243.8H1292V1236.7H1289.4V1227.4H1286.8V1229.6H1284.2V1239.1H1281.6V1229.6H1279V1226.5H1276.4V1234H1273.8V1240.2H1271.2V1231.7H1268.6V1227.5H1266V1249.9H1263.4V1229.7H1260.8V1237.3H1258.2V1234.2H1255.6V1235.3H1253V1228.4H1250.4V1234.6H1247.8V1237.8H1245.2V1225.1H1242.6V1222.7H1240V1229.4H1237.4V1222H1234.8V1221.4H1232.2V1216.6H1229.6V1221.1H1227V1220.7H1224.4V1219.8H1221.8V1221.4H1219.2V1222H1216.6V1220.4H1214V1213.5H1211.4V1223.9H1208.8V1219.8H1206.2V1217.5H1203.6V1203.5H1201V1197.7H1198.4ZM1455.8 1171.6H1458.4V1184.3H1461V1192.3H1463.6V1200.6H1466.2V1177.5H1468.8V1193.1H1471.4V1193.4H1474V1201H1476.6V1198.6H1479.2V1194.8H1481.8V1209.2H1484.4V1195.8H1487V1204.1H1489.6V1205.1H1492.2V1186.4H1494.8V1190.1H1497.4V1197.7H1500V1176.3H1502.6V1187.6H1505.2V1167.9H1507.8V1169.6H1510.4V1157.1H1513V1156.4H1515.6V1176.8H1518.2V1149.4H1520.8V1170.8H1523.4V1183.9H1526V1179.6H1528.6V1185.4H1531.2V1190.4H1533.8V1188.9H1536.4V1202.3H1539V1194.8H1541.6V1205.5H1544.2V1206H1546.8V1203.4H1549.4V1196.3H1552V1205.3H1554.6V1209.4H1557.2V1197.1H1559.8V1205.9H1562.4V1197.5H1565V1206.5H1567.6V1205.6H1570.2V1216.6H1572.8V1191.1H1575.4V1197.1H1578V1200.5H1580.6V1204.7H1583.2V1205.5H1585.8V1200.5H1588.4V1195.1H1591V1207.3H1593.6V1199.1H1596.2V1180.1H1598.8V1210.1H1596.2V1223.5H1593.6V1219.3H1591V1226.9H1588.4V1238.6H1585.8V1231.7H1583.2V1235.2H1580.6V1233.1H1578V1226.4H1575.4V1233.1H1572.8V1230.8H1570.2V1227.2H1567.6V1222.4H1565V1228.7H1562.4V1229.5H1559.8V1228.6H1557.2V1226.8H1554.6V1229H1552V1221.3H1549.4V1225.1H1546.8V1234.4H1544.2V1223.5H1541.6V1226.3H1539V1217.6H1536.4V1227.1H1533.8V1216.4H1531.2V1220.1H1528.6V1201.3H1526V1199.5H1523.4V1207.4H1520.8V1197.9H1518.2V1194.9H1515.6V1184.6H1513V1195.2H1510.4V1200H1507.8V1197.1H1505.2V1212.4H1502.6V1207.7H1500V1212.9H1497.4V1215.3H1494.8V1218.9H1492.2V1215.6H1489.6V1218.1H1487V1226.9H1484.4V1230.1H1481.8V1225.2H1479.2V1227.9H1476.6V1238.9H1474V1225.4H1471.4V1230.2H1468.8V1222H1466.2V1221.5H1463.6V1220.3H1461V1215.8H1458.4V1200.5H1455.8ZM1624.8 1199H1627.4V1212.7H1630V1214.2H1632.6V1224.1H1635.2V1206.9H1637.8V1223.9H1640.4V1223.7H1643V1239H1645.6V1227.7H1648.2V1225.8H1650.8V1234.3H1653.4V1235.5H1656V1237H1658.6V1238.3H1661.2V1227.3H1663.8V1231.1H1666.4V1232H1669V1233.1H1671.6V1232.3H1674.2V1238.7H1676.8V1241.3H1679.4V1235.1H1682V1230.7H1684.6V1238.5H1687.2V1235.7H1689.8V1227.2H1692.4V1233.6H1695V1214.1H1697.6V1218.9H1700.2V1215.4H1702.8V1200H1705.4V1203.6H1708V1208.2H1710.6V1213.5H1713.2V1214.3H1715.8V1210.5H1718.4V1209.2H1721V1223.7H1723.6V1216.7H1726.2V1216.6H1728.8V1205H1731.4V1205.8H1734V1191.4H1736.6V1189.3H1739.2V1220.8H1736.6V1225.2H1734V1239.3H1731.4V1234.6H1728.8V1232.3H1726.2V1241.1H1723.6V1248.4H1721V1231.1H1718.4V1238.3H1715.8V1233.5H1713.2V1234H1710.6V1237.8H1708V1240.5H1705.4V1230.7H1702.8V1234.6H1700.2V1240.1H1697.6V1241.8H1695V1249.9H1692.4V1247.5H1689.8V1254.1H1687.2V1261.7H1684.6V1263.8H1682V1244.7H1679.4V1266.2H1676.8V1259.4H1674.2V1259.9H1671.6V1261.6H1669V1267.8H1666.4V1252.8H1663.8V1251.6H1661.2V1257H1658.6V1250.7H1656V1252.2H1653.4V1245.4H1650.8V1248.2H1648.2V1260.5H1645.6V1256.8H1643V1245.7H1640.4V1242.5H1637.8V1234.3H1635.2V1232.9H1632.6V1227.9H1630V1228.2H1627.4V1219.9H1624.8ZM1762.6 1179.8H1765.2V1185.6H1767.8V1192.7H1770.4V1193.3H1773V1177.8H1775.6V1211.1H1773V1212.9H1770.4V1214H1767.8V1208H1765.2V1190.6H1762.6ZM1791.2 1204.9H1793.8V1207.8H1796.4V1220.1H1799V1215.4H1801.6V1218.7H1804.2V1216.3H1806.8V1227.9H1809.4V1220.1H1812V1228.3H1814.6V1228.4H1817.2V1229.1H1819.8V1224.1H1822.4V1229.1H1825V1235.4H1827.6V1233.7H1830.2V1232.3H1832.8V1234H1835.4V1232.2H1838V1242.4H1840.6V1228.8H1843.2V1241.4H1845.8V1236.1H1848.4V1242.7H1851V1232.4H1853.6V1238.7H1856.2V1246H1858.8V1242.7H1861.4V1239.9H1864V1242.7H1866.6V1250.8H1869.2V1240.2H1871.8V1239.5H1874.4V1226.6H1877V1235.1H1879.6V1239.6H1882.2V1235.5H1884.8V1232.7H1887.4V1247.3H1890V1246.5H1892.6V1243.6H1895.2V1247.2H1897.8V1239.7H1900.4V1242.2H1903V1240.9H1905.6V1240.1H1908.2V1245.6H1910.8V1247H1913.4V1234.1H1916V1249.6H1918.6V1248.3H1921.2V1239.6H1923.8V1244.4H1926.4V1240.3H1929V1238.9H1931.6V1244.9H1934.2V1234.5H1936.8V1231.6H1939.4V1240.6H1942V1247H1944.6V1246.8H1947.2V1245.3H1949.8V1233.8H1952.4V1235.2H1955V1241.6H1957.6V1240.2H1960.2V1245.1H1962.8V1237.5H1965.4V1246.1H1968V1239.3H1970.6V1243.1H1973.2V1240.3H1975.8V1246.4H1978.4V1245H1981V1240.9H1983.6V1236.2H1986.2V1242.5H1988.8V1235.8H1991.4V1236.3H1994V1230.4H1996.6V1241.9H1999.2V1230.2H2001.8V1227.8H2004.4V1230.3H2007V1226.8H2009.6V1230.9H2012.2V1232H2014.8V1234.1H2017.4V1234.4H2020V1239.2H2022.6V1238.4H2025.2V1244.1H2027.8V1232.7H2030.4V1238.9H2033V1244H2035.6V1240.1H2038.2V1246.6H2040.8V1248.7H2043.4V1246.6H2046V1242.2H2048.6V1236.1H2051.2V1241.8H2053.8V1244H2056.4V1241.8H2059V1243H2061.6V1247.9H2064.2V1247.2H2066.8V1246.1H2069.4V1249H2072V1255.5H2074.6V1250.1H2077.2V1244H2079.8V1244H2082V1265.3H2079.8V1271.1H2077.2V1263.1H2074.6V1270.1H2072V1262.9H2069.4V1270.7H2066.8V1279.3H2064.2V1264H2061.6V1265.7H2059V1269.9H2056.4V1275.2H2053.8V1262.6H2051.2V1265.8H2048.6V1259.3H2046V1260.2H2043.4V1274.9H2040.8V1266.6H2038.2V1254.5H2035.6V1264.2H2033V1256.2H2030.4V1257.5H2027.8V1257.6H2025.2V1256.7H2022.6V1258.5H2020V1257.8H2017.4V1247.2H2014.8V1256.8H2012.2V1256.4H2009.6V1262.4H2007V1249.3H2004.4V1249.1H2001.8V1254.2H1999.2V1256.7H1996.6V1250.7H1994V1255.7H1991.4V1254.9H1988.8V1253.7H1986.2V1259.9H1983.6V1254.6H1981V1267.7H1978.4V1264.7H1975.8V1266.9H1973.2V1269.8H1970.6V1253.5H1968V1256.1H1965.4V1259.7H1962.8V1264.8H1960.2V1271.8H1957.6V1272.6H1955V1270.9H1952.4V1264.1H1949.8V1268.2H1947.2V1259.2H1944.6V1261.2H1942V1253.6H1939.4V1265H1936.8V1276.8H1934.2V1259.5H1931.6V1256.8H1929V1259.9H1926.4V1258.6H1923.8V1258.3H1921.2V1267.9H1918.6V1285.4H1916V1272.1H1913.4V1266.5H1910.8V1266.1H1908.2V1257.6H1905.6V1268.8H1903V1260.2H1900.4V1263.5H1897.8V1262.7H1895.2V1261.4H1892.6V1264.8H1890V1259.1H1887.4V1255.7H1884.8V1257.5H1882.2V1259.1H1879.6V1263.6H1877V1261H1874.4V1267.6H1871.8V1257.8H1869.2V1260.8H1866.6V1260.8H1864V1275.3H1861.4V1267.1H1858.8V1263.2H1856.2V1266H1853.6V1251.6H1851V1257H1848.4V1258.8H1845.8V1260.1H1843.2V1253.4H1840.6V1253.3H1838V1253.5H1835.4V1259.5H1832.8V1255.8H1830.2V1266.3H1827.6V1254.9H1825V1247.2H1822.4V1255.3H1819.8V1253.4H1817.2V1253.7H1814.6V1240.6H1812V1249.1H1809.4V1248.9H1806.8V1239.2H1804.2V1239.4H1801.6V1242.5H1799V1234.5H1796.4V1232.7H1793.8V1215.9H1791.2Z"/>
<polyline fill="none" stroke="#ff0000" stroke-width="2.5" stroke-linejoin="round" points="731.4,1115.2 731.9,1120.1 732.5,1120.1 733,1107.5 733.6,1118.6 734.1,1124.1 734.7,1105 735.2,1111.6 735.8,1092.2 736.3,1087.4 736.9,1102.7 737.5,1095.8 738,1093.4 738.6,1085.3 739.1,1083.1 739.7,1083.4 740.2,1081.1 740.8,1068.9 741.3,1059.2 741.9,1059.4 742.4,1050.3 743,1042 743.5,1032.1 744.1,1024.4 744.7,1010.9 745.2,999.3 745.8,984.6 746.3,971.6 746.9,956.8 747.4,941.7 748,926.1 748.5,909.7 749.1,895.6 749.6,880.2 750.2,868.3 750.8,859.1 751.3,851.3 751.9,850.6 752,850.7 752.4,851 753,858.1 753.5,865.4 754.1,877.1 754.6,890.6 755.2,905.7 755.7,922.5 756.3,939.2 756.8,955.5 757.4,972 758,985.1 758.5,999.9 759.1,1012.3 759.6,1027 760.2,1036.1 760.7,1046.1 761.3,1054.3 761.8,1065.8 762.4,1070.8 762.9,1078.9 763.5,1078.6 764,1093.9 764.6,1096.3 765.2,1101.4 765.7,1108.3 766.3,1105.6 766.8,1108.8 767.4,1115.6 767.9,1116.6 768.5,1115.2 769,1118.2 769.6,1116.4 770.1,1123.7 770.7,1125.4 771.2,1120.4 771.8,1130.6 772.4,1110.8 772.9,1117.2 773.5,1126.9 774,1113.2 774.6,1104.7 775.1,1118.9 775.7,1111.4 776.2,1099 776.8,1105.8 777.3,1092.7 777.9,1086.9 778.5,1087.9 779,1081.3 779.6,1073.1 780.1,1070.4 780.7,1061.8 781.2,1059.7 781.8,1053.1 782.3,1049.8 782.9,1039.8 783.4,1031.8 784,1027.8 784.5,1028.5 785,1033.1 785.1,1030.5 785.7,1024.8 786.2,1031.1 786.8,1025.1 787.3,1036 787.9,1033.7 788.4,1041.7 789,1045 789.5,1045 790.1,1051.5 790.6,1047.5 791.2,1056 791.7,1066.5 792.3,1090.7 792.9,1069.5 793.4,1067 794,1059.8 794.5,1078.3 795.1,1057.3 795.6,1065.4 796.2,1075.9 796.7,1063.8 797.3,1087.2 797.8,1084.1 798.4,1070.7"/>
<polyline fill="none" stroke="#ff0000" stroke-width="2.5" stroke-linejoin="round" points="810.6,1066.1 811.1,1077.4 811.7,1068.3 812.2,1089.3 812.8,1071.5 813.4,1065 813.9,1061.3 814.5,1070.7 815,1065 815.6,1047.9 816.1,1055.1 816.7,1040.5 817.2,1041 817.8,1034.3 818.3,1030.5 818.9,1028.9 819.4,1022.5 820,1021.6 820.6,1015.5 821.1,1005.6 821.7,996.4 822.2,993.2 822.8,980 823.3,973.1 823.9,972.7 824.4,967.7 825,965 825.5,959.5 826,956.3 826.1,958.5 826.6,963.4 827.2,963.1 827.8,968.7 828.3,973.9 828.9,982.1 829.4,994.2 830,1001.8 830.5,1006.5 831.1,1014.6 831.6,1023.5 832.2,1034.2 832.7,1035.1 833.3,1045 833.9,1041.2 834.4,1049.9 835,1064.6 835.5,1072.3 836.1,1062.7 836.6,1068.8 837.2,1083.7 837.7,1077.8 838.3,1079.4 838.8,1090.3 839.4,1090.1 839.9,1099.4 840.5,1098.7 841.1,1089.7 841.6,1094.8"/>
<polyline fill="none" stroke="#ff0000" stroke-width="2.5" stroke-linejoin="round" points="855.5,1102 856,1092.1 856.6,1095 857.1,1090.9 857.7,1093.4 858.2,1098.3 858.8,1079 859.3,1095.5 859.9,1082.3 860.4,1090.9 861,1081.4 861.6,1082.5 862.1,1075.2 862.7,1073.7 863.2,1064.5 863.8,1056.4 864.3,1056.7 864.9,1050.9 865.4,1047.9 866,1031.7 866.5,1028.2 867.1,1022 867.6,1009.8 868.2,1001.4 868.8,992.9 869.3,980.3 869.9,965.7 870.4,953.4 871,938.2 871.5,921.8 872.1,904.4 872.6,886.3 873.2,867.1 873.7,848.2 874.3,829.7 874.8,811 875.4,794.5 876,778.7 876.5,765.4 877.1,757.4 877.6,753 878,752.3 878.2,752.4 878.7,755.6 879.3,765 879.8,775.9 880.4,791.3 880.9,808.1 881.5,826.4 882,847.1 882.6,865.2 883.2,885.6 883.7,905.2 884.3,923 884.8,940.9 885.4,956.5 885.9,971.3 886.5,987.2 887,998.2 887.6,1010.1 888.1,1019.9 888.7,1030.1 889.3,1041.4 889.8,1049.8 890.4,1056.5 890.9,1061.9 891.5,1072.2 892,1070.5 892.6,1080.5 893.1,1085.8 893.7,1087.6 894.2,1096.9 894.8,1096.6 895.3,1099.4 895.9,1118.2 896.5,1115.4 897,1121.7 897.6,1117 898.1,1126.2 898.7,1127.4 899.2,1132.8 899.8,1143.3 900.3,1126.8 900.9,1132.2 901.4,1131.7"/>
<polyline fill="none" stroke="#ff0000" stroke-width="2.5" stroke-linejoin="round" points="1174.6,1185.5 1175.1,1180.8 1175.7,1186.6 1176.2,1181.5 1176.8,1180 1177.3,1185.3 1177.9,1180.4 1178.4,1180.4 1179,1162.4 1179.5,1172.8 1180.1,1162.5 1180.7,1157.8 1181.2,1154.1 1181.8,1161 1182.3,1154.3 1182.9,1142.7 1183.4,1136.5 1184,1136 1184.5,1129.4 1185.1,1131.8 1185.6,1117.1 1186.2,1112.3 1186.8,1114.1 1187.3,1112.9 1187.9,1112.4 1188,1114.2 1188.4,1118.4 1189,1112.9 1189.5,1114.9 1190.1,1114.6 1190.6,1125.1 1191.2,1131.9 1191.7,1133.2 1192.3,1143.5 1192.8,1144.3 1193.4,1155.8 1194,1155.3 1194.5,1152.4 1195.1,1158.4 1195.6,1156.3 1196.2,1158.5 1196.7,1174.1 1197.3,1180.7 1197.8,1190.1 1198.4,1180 1198.9,1181.1 1199.5,1177.7 1200,1192.6 1200.6,1190.5 1201.2,1186"/>
<polyline fill="none" stroke="#ff0000" stroke-width="2.5" stroke-linejoin="round" points="1419.4,1196.4 1420,1193.8 1420.5,1187.5 1421.1,1184.4 1421.6,1186.2 1422.2,1189.6 1422.8,1196 1423.3,1188.1 1423.9,1188.5 1424.4,1179.6 1425,1174 1425.5,1166 1426.1,1167.4 1426.6,1156.2 1427.2,1158.3 1427.7,1159.6 1428.3,1150.8 1428.8,1147.3 1429.4,1138.4 1430,1130.8 1430.5,1126.2 1431.1,1119.7 1431.6,1114.8 1432.2,1108.2 1432.7,1097.5 1433.3,1090.1 1433.8,1082.4 1434.4,1074.3 1434.9,1065.8 1435.5,1059.5 1436,1052.9 1436.6,1046.8 1437.2,1039.7 1437.7,1037 1438.3,1032.3 1438.8,1034.2 1439,1031.8 1439.4,1033 1439.9,1034.5 1440.5,1037.4 1441,1041.2 1441.6,1046.1 1442.1,1055.8 1442.7,1061.4 1443.3,1068.9 1443.8,1078.2 1444.4,1084.1 1444.9,1092.5 1445.5,1099.7 1446,1108.5 1446.6,1114.8 1447.1,1121.4 1447.7,1126.9 1448.2,1133.9 1448.8,1141.6 1449.3,1139.3 1449.9,1149 1450.5,1152.6 1451,1157.2 1451.6,1155.2 1452.1,1168.6 1452.7,1166 1453.2,1171.5 1453.8,1173.2 1454.3,1170.4 1454.9,1178.5 1455.4,1173.5 1456,1180.1 1456.5,1185.5 1457.1,1189.2 1457.7,1191.3 1458.2,1191.9"/>
<polyline fill="none" stroke="#ff0000" stroke-width="2.5" stroke-linejoin="round" points="1596.7,1199.4 1597.3,1206.2 1597.8,1203.7 1598.4,1188.3 1598.9,1199 1599.5,1188.2 1600,1189.1 1600.6,1195.7 1601.1,1184.4 1601.7,1187.8 1602.2,1181.3 1602.8,1187.9 1603.4,1175.8 1603.9,1168 1604.5,1164.4 1605,1160.9 1605.6,1159.3 1606.1,1154 1606.7,1150.9 1607.2,1143.8 1607.8,1138.4 1608.3,1133.5 1608.9,1127.7 1609.5,1124 1610,1121 1610.6,1117.8 1611.1,1113.3 1611.7,1110.1 1612,1111.7 1612.2,1113.8 1612.8,1110.2 1613.3,1116.1 1613.9,1121.2 1614.4,1123.6 1615,1127.4 1615.5,1138.1 1616.1,1143.1 1616.7,1145.8 1617.2,1154.8 1617.8,1160.6 1618.3,1160.4 1618.9,1175.9 1619.4,1170.5 1620,1177.2 1620.5,1178.5 1621.1,1186.8 1621.6,1184.9 1622.2,1193.8 1622.7,1202.1 1623.3,1201.1 1623.9,1201.5 1624.4,1213.7 1625,1203.1 1625.5,1215.2 1626.1,1210.5 1626.6,1215.2 1627.2,1216"/>
<polyline fill="none" stroke="#ff0000" stroke-width="2.5" stroke-linejoin="round" points="1736.9,1213 1737.4,1199.9 1738,1196.6 1738.5,1208.4 1739.1,1201.5 1739.6,1196.3 1740.2,1199.4 1740.8,1191.7 1741.3,1182.8 1741.9,1192.4 1742.4,1182.8 1743,1178.1 1743.5,1173.3 1744.1,1174.8 1744.6,1167 1745.2,1166.6 1745.7,1159.2 1746.3,1157.1 1746.8,1148.5 1747.4,1142.6 1748,1134.7 1748.5,1130.9 1749.1,1129.2 1749.6,1129 1750.2,1117 1750.7,1114.3 1751.3,1114.6 1751.8,1113.8 1752,1111.7 1752.4,1113.2 1752.9,1111.5 1753.5,1116.1 1754,1121.5 1754.6,1126.9 1755.2,1128.1 1755.7,1132.9 1756.3,1139.4 1756.8,1146 1757.4,1150 1757.9,1152.2 1758.5,1159.8 1759,1166.2 1759.6,1165.5 1760.1,1167.3 1760.7,1177.1 1761.2,1180 1761.8,1185.4 1762.4,1184.9 1762.9,1184.3 1763.5,1187.3 1764,1186.5 1764.6,1188.5 1765.1,1191.8 1765.7,1193.4 1766.2,1202.8"/>
<polyline fill="none" stroke="#ff0000" stroke-width="2.5" stroke-linejoin="round" points="1771.8,1206.4 1772.3,1200.9 1772.9,1204.8 1773.4,1200.3 1774,1196.6 1774.5,1191.7 1775.1,1184.2 1775.7,1189.4 1776.2,1184.1 1776.8,1183.5 1777.3,1177.8 1777.9,1172.3 1778.4,1168.2 1779,1170.4 1779.5,1169.1 1780.1,1161.9 1780.6,1162 1781.2,1163.1 1781.7,1156.6 1782,1158 1782.3,1156.1 1782.9,1163.6 1783.4,1163.1 1784,1163.7 1784.5,1163.1 1785.1,1171.2 1785.6,1179 1786.2,1178.3 1786.7,1181.6 1787.3,1189.6 1787.8,1185 1788.4,1194.1 1788.9,1200 1789.5,1195.6 1790.1,1198 1790.6,1206.3 1791.2,1206.7 1791.7,1208 1792.3,1212.3 1792.8,1214.1 1793.4,1209.5 1793.9,1212.3"/>
<path fill="#0000ff" d="M148 1017.8H150.6V1007.4H153.2V999.1H155.8V1002.2H158.4V1001.8H161V1013.8H163.6V987.1H166.2V998.2H168.8V1015.8H171.4V1020H174V1009.4H176.6V1006.9H179.2V1014.9H181.8V1011.5H184.4V1011H187V1009H189.6V1009.8H192.2V997.9H194.8V988H197.4V1019.8H200V1019H202.6V1003.3H205.2V1007.8H207.8V1005.7H210.4V999.3H213V1015.5H215.6V1010H218.2V997.4H220.8V1009.8H223.4V1026.3H226V1007.9H228.6V1032.3H231.2V1015.4H233.8V1011.8H236.4V1014.3H239V1014.3H241.6V1029.8H244.2V1023.2H246.8V1026.2H249.4V1032.9H252V1029.2H254.6V1044.7H257.2V1051.8H259.8V1038.9H262.4V1047.1H265V1055H267.6V1066H270.2V1073.9H272.8V1068.1H275.4V1067H278V1079.2H280.6V1074.7H283.2V1088.6H285.8V1079H288.4V1092.8H291V1095.3H293.6V1107.8H296.2V1084.4H298.8V1105.7H301.4V1122.1H304V1125H306.6V1099.7H309.2V1115.2H311.8V1136.6H314.4V1121.7H317V1131.3H319.6V1124.7H322.2V1140.6H324.8V1124.4H327.4V1148.9H330V1138.3H332.6V1150.6H335.2V1145.6H337.8V1138.8H340.4V1145.6H343V1138H345.6V1143.1H348.2V1144.5H350.8V1149.6H353.4V1152.2H356V1156.2H358.6V1141H361.2V1156.4H363.8V1152H366.4V1167H369V1150.2H371.6V1141.3H374.2V1156.1H376.8V1160.3H379.4V1145.4H382V1172.5H384.6V1165.4H387.2V1161.6H389.8V1156.5H392.4V1165.6H395V1164H397.6V1156.6H400.2V1163.3H402.8V1160.8H405.4V1158.2H408V1154.4H410.6V1146.6H413.2V1156.5H415.8V1155H418.4V1155.3H421V1160.4H423.6V1142.1H426.2V1154.8H428.8V1159.5H431.4V1144.1H434V1157.8H436.6V1154.1H439.2V1150.4H441.8V1160.5H444.4V1148.6H447V1152.7H449.6V1161.6H452.2V1157.2H454.8V1158.3H457.4V1157H460V1156.5H462.6V1146H465.2V1161.5H467.8V1148.2H470.4V1144.1H473V1147.9H475.6V1137.1H478.2V1150.6H480.8V1144.2H483.4V1141.4H486V1116.5H488.6V1118.4H491.2V1127.7H493.8V1122.8H496.4V1115.3H499V1120.4H501.6V1110.3H504.2V1109.3H506.8V1117.9H509.4V1114.3H512V1113.2H514.6V1104H517.2V1114H519.8V1107.5H522.4V1092.1H525V1100.8H527.6V1100.7H530.2V1092.5H532.8V1083.5H535.4V1087.6H538V1076.5H540.6V1070.1H543.2V1066.6H545.8V1058.6H548.4V1068H551V1051.7H553.6V1060.4H556.2V1045.4H558.8V1051H561.4V1035.6H564V1022.5H566.6V1023.6H569.2V1021.5H571.8V1013.4H574.4V997.2H577V984H579.6V984.1H582.2V989.6H584.8V934.8H587.4V945.1H590V913.7H592.6V928.3H595.2V916.6H597.8V884.1H600.4V905.3H603V893H605.6V892.9H608.2V911.5H610.8V937.9H613.4V951.6H616V957.5H618.6V973.3H621.2V967.7H623.8V995.3H626.4V1036.5H629V1039H631.6V1050.8H634.2V1042.9H636.8V1049.4H639.4V1075.7H642V1067.1H644.6V1047.4H647.2V1077.5H649.8V1080.9H652.4V1080.7H655V1085H657.6V1084.7H660.2V1078.5H662.8V1064.8H665.4V1082.3H668V1081.2H670.6V1077.1H673.2V1086.7H675.8V1079.4H678.4V1074.7H681V1077.6H683.6V1074.9H686.2V1075.3H688.8V1094.3H691.4V1096.8H694V1086.8H696.6V1078.3H699.2V1068.4H701.8V1083.6H704.4V1079.4H707V1071.7H709.6V1061.3H712.2V1060.4H714.8V1076.1H717.4V1084.1H720V1080.5H722.6V1061.9H725.2V1082.4H727.8V1085H730.4V1067.7H733V1086H735.6V1072.8H738.2V1059.4H740.8V1078.9H743.4V1081.7H746V1083.3H748.6V1084H751.2V1080.2H753.8V1082.1H756.4V1083.5H759V1092.5H761.6V1091.2H764.2V1102.6H766.8V1089H769.4V1091.3H772V1087.5H774.6V1090.4H777.2V1083H779.8V1082H782.4V1088.4H785V1083.7H787.6V1084.7H790.2V1084.8H792.8V1068.7H795.4V1081.8H798V1095.4H800.6V1084.5H803.2V1087.7H805.8V1080.8H808.4V1095.3H811V1097H813.6V1080.2H816.2V1098.8H818.8V1100.1H821.4V1093H824V1070.7H826.6V1103H829.2V1109.9H831.8V1085.8H834.4V1096.2H837V1098.5H839.6V1080.4H842.2V1084.7H844.8V1100.8H847.4V1094H850V1099.2H852.6V1099.6H855.2V1093.4H857.8V1099H860.4V1083.4H863V1092.4H865.6V1097.2H868.2V1091.5H870.8V1094.2H873.4V1098.8H876V1082.8H878.6V1097.5H881.2V1103.1H883.8V1098.7H886.4V1115.5H889V1097.2H891.6V1110.1H894.2V1088.4H896.8V1102.2H899.4V1120.7H902V1112.7H904.6V1108.8H907.2V1092.6H909.8V1109.7H912.4V1110.3H915V1103.8H917.6V1106.2H920.2V1105.6H922.8V1097.5H925.4V1099.6H928V1094H930.6V1082.7H933.2V1086.2H935.8V1094.9H938.4V1092.4H941V1091.2H943.6V1101.3H946.2V1089.9H948.8V1095.5H951.4V1105.5H954V1090.7H956.6V1110.1H959.2V1095.6H961.8V1093.3H964.4V1089.1H967V1087.1H969.6V1108.3H972.2V1109.8H974.8V1101.5H977.4V1105.4H980V1104H982.6V1090.8H985.2V1079.2H987.8V1100.4H990.4V1078.4H993V1089.4H995.6V1096.3H998.2V1103.7H1000.8V1089.2H1003.4V1086.4H1006V1088H1008.6V1093.8H1011.2V1091.3H1013.8V1079.3H1016.4V1074.7H1019V1076.8H1021.6V1092H1024.2V1098.4H1026.8V1098.3H1029.4V1074.7H1032V1088.5H1034.6V1081.3H1037.2V1081.9H1039.8V1055.7H1042.4V1074.4H1045V1085H1047.6V1076.8H1050.2V1060.8H1052.8V1064.4H1055.4V1070.3H1058V1045.2H1060.6V1057.2H1063.2V1044.8H1065.8V1052.2H1068.4V1062.1H1071V1064.8H1073.6V1064.8H1076.2V1066.6H1078.8V1057H1081.4V1069.1H1084V1057.3H1086.6V1061.5H1089.2V1048.4H1091.8V1062.1H1094.4V1078.4H1097V1072.9H1099.6V1074.9H1102.2V1099.7H1104.8V1097.4H1107.4V1095.8H1110V1089.2H1112.6V1091.8H1115.2V1077.5H1117.8V1090.7H1120.4V1097.2H1123V1110.5H1125.6V1118.9H1128.2V1101.9H1130.8V1110.7H1133.4V1111.2H1136V1120.1H1138.6V1114.2H1141.2V1118.6H1143.8V1115H1146.4V1102.7H1149V1097H1151.6V1130.5H1154.2V1138.4H1156.8V1143.2H1159.4V1124.6H1162V1138.1H1164.6V1142.9H1167.2V1124.9H1169.8V1136.4H1172.4V1137.8H1175V1141.7H1177.6V1136.7H1180.2V1135.4H1182.8V1134.5H1185.4V1146.3H1188V1126.3H1190.6V1156.5H1193.2V1150.9H1195.8V1149.3H1198.4V1159.3H1201V1158.6H1203.6V1157.5H1206.2V1149.6H1208.8V1151.4H1211.4V1148H1214V1153.1H1216.6V1157H1219.2V1164.8H1221.8V1148.6H1224.4V1155.2H1227V1132.9H1229.6V1140.3H1232.2V1173.4H1234.8V1155.2H1237.4V1159.8H1240V1145.7H1242.6V1166.9H1245.2V1161H1247.8V1172H1250.4V1175.6H1253V1171.2H1255.6V1176.7H1258.2V1173.9H1260.8V1178.4H1263.4V1153.7H1266V1184.4H1268.6V1166.8H1271.2V1179.1H1273.8V1166.2H1276.4V1179.5H1279V1168H1281.6V1169.3H1284.2V1186.7H1286.8V1177.1H1289.4V1172.4H1292V1171.7H1294.6V1177H1297.2V1165.6H1299.8V1175H1302.4V1173.4H1305V1180.2H1307.6V1186H1310.2V1181.1H1312.8V1174.3H1315.4V1167.8H1318V1173.5H1320.6V1178.9H1323.2V1180.5H1325.8V1174.3H1328.4V1169.5H1331V1165.4H1333.6V1178.6H1336.2V1175.1H1338.8V1175.3H1341.4V1178.5H1344V1168.7H1346.6V1162.9H1349.2V1168H1351.8V1178.1H1354.4V1168.1H1357V1173.9H1359.6V1167.7H1362.2V1172.8H1364.8V1165.9H1367.4V1186.9H1370V1173.6H1372.6V1180.8H1375.2V1177.3H1377.8V1183.1H1380.4V1181.1H1383V1179.6H1385.6V1184.3H1388.2V1185.2H1390.8V1190.8H1393.4V1174.6H1396V1191.1H1398.6V1182.7H1401.2V1184.8H1403.8V1187.8H1406.4V1193.2H1409V1197.8H1411.6V1197.5H1414.2V1199.2H1416.8V1214.1H1419.4V1199.8H1422V1202.6H1424.6V1185.1H1427.2V1186H1429.8V1186.9H1432.4V1202.2H1435V1200.7H1437.6V1203H1440.2V1202H1442.8V1196.4H1445.4V1201.1H1448V1196.4H1450.6V1200H1453.2V1195.1H1455.8V1177.2H1458.4V1209.5H1461V1201.2H1463.6V1192.2H1466.2V1200H1468.8V1201.4H1471.4V1192.6H1474V1191.2H1476.6V1196.4H1479.2V1194.8H1481.8V1203.1H1484.4V1196.4H1487V1196.3H1489.6V1210.7H1492.2V1207.2H1494.8V1204.8H1497.4V1201.1H1500V1206H1502.6V1193.3H1505.2V1203.4H1507.8V1195.7H1510.4V1203.3H1513V1204.8H1515.6V1187.8H1518.2V1193.9H1520.8V1201.7H1523.4V1203.8H1526V1206.6H1528.6V1199.9H1531.2V1191.1H1533.8V1201.9H1536.4V1210.9H1539V1206.8H1541.6V1208.9H1544.2V1203.8H1546.8V1215.5H1549.4V1200.4H1552V1198.8H1554.6V1204.9H1557.2V1214.2H1559.8V1211.4H1562.4V1204.3H1565V1209H1567.6V1204.4H1570.2V1212.3H1572.8V1211.4H1575.4V1211.7H1578V1213.6H1580.6V1212.9H1583.2V1205.8H1585.8V1211.7H1588.4V1209.9H1591V1212.9H1593.6V1214.9H1596.2V1207.1H1598.8V1209.3H1601.4V1219.5H1604V1212.4H1606.6V1211H1609.2V1215H1611.8V1214.1H1614.4V1215.2H1617V1220.4H1619.6V1218.6H1622.2V1220.2H1624.8V1219H1627.4V1228.5H1630V1220.2H1632.6V1219.2H1635.2V1223.5H1637.8V1212.3H1640.4V1209.8H1643V1225.9H1645.6V1219H1648.2V1222.9H1650.8V1220.8H1653.4V1226.3H1656V1212H1658.6V1217.2H1661.2V1216.2H1663.8V1221.2H1666.4V1215.3H1669V1220.1H1671.6V1222.5H1674.2V1219.9H1676.8V1219.2H1679.4V1228.2H1682V1225.8H1684.6V1224.2H1687.2V1219.2H1689.8V1221.3H1692.4V1221H1695V1220.1H1697.6V1217.1H1700.2V1221.1H1702.8V1213H1705.4V1215.5H1708V1213H1710.6V1223.2H1713.2V1221.4H1715.8V1225H1718.4V1223.4H1721V1211H1723.6V1221.7H1726.2V1206.2H1728.8V1224.4H1731.4V1217.8H1734V1226.7H1736.6V1228.7H1739.2V1217.7H1741.8V1216.9H1744.4V1209.6H1747V1230.5H1749.6V1225.8H1752.2V1215.2H1754.8V1227.6H1757.4V1213.7H1760V1222.5H1762.6V1223.3H1765.2V1221.2H1767.8V1233.8H1770.4V1230.2H1773V1222.2H1775.6V1208.4H1778.2V1212.5H1780.8V1223.5H1783.4V1221H1786V1213.7H1788.6V1211.3H1791.2V1224.6H1793.8V1223.7H1796.4V1214.5H1799V1229.1H1801.6V1213H1804.2V1223.7H1806.8V1217H1809.4V1221.9H1812V1218.9H1814.6V1228.1H1817.2V1226.2H1819.8V1222.1H1822.4V1230.2H1825V1228.7H1827.6V1231.5H1830.2V1225.8H1832.8V1234H1835.4V1229.8H1838V1218.9H1840.6V1222.8H1843.2V1231H1845.8V1228.8H1848.4V1229.5H1851V1222.4H1853.6V1235.5H1856.2V1230.1H1858.8V1228.1H1861.4V1232.7H1864V1228.2H1866.6V1230.6H1869.2V1229.8H1871.8V1225.2H1874.4V1231.8H1877V1217H1879.6V1236.4H1882.2V1234.4H1884.8V1224.4H1887.4V1234.7H1890V1229.8H1892.6V1226.9H1895.2V1227.2H1897.8V1234.9H1900.4V1232.6H1903V1227.6H1905.6V1231.3H1908.2V1229.4H1910.8V1235.9H1913.4V1239.2H1916V1228.7H1918.6V1231.1H1921.2V1231.5H1923.8V1224.5H1926.4V1238H1929V1231.8H1931.6V1226.1H1934.2V1224.2H1936.8V1235.9H1939.4V1230.2H1942V1225H1944.6V1230.9H1947.2V1228.6H1949.8V1236.6H1952.4V1240.2H1955V1227.6H1957.6V1234.6H1960.2V1223.8H1962.8V1226.3H1965.4V1229.4H1968V1231.5H1970.6V1228.6H1973.2V1227.4H1975.8V1232.9H1978.4V1230.3H1981V1229.4H1983.6V1227.6H1986.2V1227.7H1988.8V1225.6H1991.4V1221.3H1994V1222.9H1996.6V1217.9H1999.2V1212.6H2001.8V1217H2004.4V1213.3H2007V1206.6H2009.6V1209.9H2012.2V1220.7H2014.8V1214.3H2017.4V1200.1H2020V1211.7H2022.6V1214.4H2025.2V1221.8H2027.8V1221.1H2030.4V1217.1H2033V1216.9H2035.6V1211.6H2038.2V1209.6H2040.8V1208H2043.4V1210H2046V1207.1H2048.6V1218.6H2051.2V1222H2053.8V1210H2056.4V1215.9H2059V1215.9H2061.6V1213.9H2064.2V1208H2066.8V1211.9H2069.4V1204.4H2072V1211.1H2074.6V1215.4H2077.2V1219.1H2079.8V1232.6H2082V1261.7H2079.8V1261.8H2077.2V1237.1H2074.6V1241.2H2072V1227.2H2069.4V1240.2H2066.8V1237.7H2064.2V1232.6H2061.6V1228H2059V1238.9H2056.4V1234.6H2053.8V1237.4H2051.2V1240.5H2048.6V1239.3H2046V1240.6H2043.4V1240.2H2040.8V1259.4H2038.2V1234.7H2035.6V1229.9H2033V1243.1H2030.4V1243.7H2027.8V1239.2H2025.2V1247.5H2022.6V1244H2020V1243.7H2017.4V1236.2H2014.8V1238.6H2012.2V1248.2H2009.6V1249.9H2007V1236H2004.4V1237.9H2001.8V1243.9H1999.2V1243.4H1996.6V1247.6H1994V1241.7H1991.4V1253.2H1988.8V1247H1986.2V1242.7H1983.6V1254H1981V1244.7H1978.4V1247H1975.8V1251.4H1973.2V1240.9H1970.6V1256.2H1968V1247.6H1965.4V1255.7H1962.8V1249.8H1960.2V1256.1H1957.6V1256.2H1955V1254H1952.4V1252.1H1949.8V1253.9H1947.2V1247.2H1944.6V1245.9H1942V1247.7H1939.4V1257.8H1936.8V1254.1H1934.2V1249.3H1931.6V1252H1929V1253.6H1926.4V1250.3H1923.8V1253.6H1921.2V1260.9H1918.6V1245.6H1916V1253H1913.4V1253.3H1910.8V1264.2H1908.2V1255.4H1905.6V1251.6H1903V1243.2H1900.4V1247.5H1897.8V1247.9H1895.2V1246.1H1892.6V1248.5H1890V1257.4H1887.4V1259.4H1884.8V1251.4H1882.2V1252.7H1879.6V1245H1877V1252.9H1874.4V1252H1871.8V1241H1869.2V1254.8H1866.6V1248.6H1864V1252H1861.4V1256.3H1858.8V1247.2H1856.2V1247.7H1853.6V1247.8H1851V1257.8H1848.4V1249.2H1845.8V1250H1843.2V1250H1840.6V1244.4H1838V1259H1835.4V1257.3H1832.8V1246.9H1830.2V1253.1H1827.6V1247.8H1825V1248.3H1822.4V1246.2H1819.8V1244.5H1817.2V1255.3H1814.6V1246.6H1812V1250.3H1809.4V1246.7H1806.8V1237.8H1804.2V1239.8H1801.6V1242.1H1799V1248.3H1796.4V1242.4H1793.8V1247.2H1791.2V1247.2H1788.6V1250H1786V1248H1783.4V1240.4H1780.8V1241H1778.2V1251H1775.6V1250.2H1773V1251.6H1770.4V1247.8H1767.8V1247.6H1765.2V1235.3H1762.6V1238H1760V1244.8H1757.4V1265.2H1754.8V1257.3H1752.2V1256.4H1749.6V1250.7H1747V1233.5H1744.4V1241.6H1741.8V1244.7H1739.2V1240.2H1736.6V1245.9H1734V1239.9H1731.4V1253.6H1728.8V1250.2H1726.2V1239.3H1723.6V1244.6H1721V1252.9H1718.4V1238.3H1715.8V1242.1H1713.2V1253.7H1710.6V1250.5H1708V1242.5H1705.4V1235H1702.8V1249.2H1700.2V1245.8H1697.6V1254.2H1695V1242.5H1692.4V1242H1689.8V1244.9H1687.2V1239.8H1684.6V1242.7H1682V1238.3H1679.4V1252.2H1676.8V1243.1H1674.2V1241.1H1671.6V1242.6H1669V1237.7H1666.4V1246.2H1663.8V1241.5H1661.2V1248.6H1658.6V1236.6H1656V1251.1H1653.4V1238.5H1650.8V1234H1648.2V1246.3H1645.6V1242.4H1643V1244H1640.4V1237.2H1637.8V1242.7H1635.2V1237H1632.6V1236.3H1630V1241H1627.4V1236.1H1624.8V1231H1622.2V1245.5H1619.6V1244.7H1617V1244.9H1614.4V1233H1611.8V1246.1H1609.2V1242.1H1606.6V1243.9H1604V1235.9H1601.4V1238H1598.8V1237.5H1596.2V1235.5H1593.6V1246.9H1591V1228.6H1588.4V1241.5H1585.8V1237.3H1583.2V1236.3H1580.6V1239.6H1578V1233.6H1575.4V1241.1H1572.8V1230.3H1570.2V1237H1567.6V1239.9H1565V1224.7H1562.4V1221.2H1559.8V1235.3H1557.2V1230.4H1554.6V1240.9H1552V1222.9H1549.4V1227.8H1546.8V1232.2H1544.2V1223H1541.6V1217.4H1539V1233.6H1536.4V1224H1533.8V1229.1H1531.2V1228.6H1528.6V1228.5H1526V1231.9H1523.4V1230.2H1520.8V1221H1518.2V1229.9H1515.6V1221.7H1513V1224.4H1510.4V1232.1H1507.8V1224.3H1505.2V1220.3H1502.6V1226.2H1500V1215.8H1497.4V1229.7H1494.8V1221.7H1492.2V1219.6H1489.6V1218.3H1487V1223.5H1484.4V1231.4H1481.8V1228.2H1479.2V1229H1476.6V1231.4H1474V1222.8H1471.4V1238.1H1468.8V1231.1H1466.2V1220.5H1463.6V1227.4H1461V1229.1H1458.4V1221.8H1455.8V1225.8H1453.2V1215H1450.6V1221.7H1448V1224.6H1445.4V1218.9H1442.8V1214.4H1440.2V1225.2H1437.6V1229.6H1435V1217.1H1432.4V1214.4H1429.8V1226H1427.2V1217.6H1424.6V1217.5H1422V1220.2H1419.4V1237.1H1416.8V1236.5H1414.2V1222.1H1411.6V1221.7H1409V1216H1406.4V1221.6H1403.8V1207.1H1401.2V1221.7H1398.6V1217.7H1396V1220.2H1393.4V1217.9H1390.8V1207.1H1388.2V1202.5H1385.6V1215.2H1383V1206.3H1380.4V1201.6H1377.8V1201.9H1375.2V1205H1372.6V1202.8H1370V1207.8H1367.4V1195H1364.8V1196.2H1362.2V1193.9H1359.6V1193.2H1357V1192.6H1354.4V1191.3H1351.8V1199.2H1349.2V1195.2H1346.6V1200.6H1344V1199.1H1341.4V1215H1338.8V1204.6H1336.2V1200.4H1333.6V1190.4H1331V1204.4H1328.4V1201.2H1325.8V1204.4H1323.2V1196.9H1320.6V1207H1318V1192.4H1315.4V1200.4H1312.8V1208.1H1310.2V1194.1H1307.6V1204.4H1305V1213.8H1302.4V1198H1299.8V1202H1297.2V1221.3H1294.6V1201.6H1292V1191.6H1289.4V1195.8H1286.8V1199.6H1284.2V1195.6H1281.6V1197.5H1279V1192.9H1276.4V1188.1H1273.8V1204.1H1271.2V1188.2H1268.6V1198.9H1266V1193.4H1263.4V1188.3H1260.8V1201.3H1258.2V1200.6H1255.6V1184.7H1253V1196H1250.4V1197.5H1247.8V1195.6H1245.2V1193.8H1242.6V1189.2H1240V1202.3H1237.4V1196.2H1234.8V1195.2H1232.2V1179.5H1229.6V1186.3H1227V1173.3H1224.4V1195H1221.8V1176.2H1219.2V1169.3H1216.6V1177.4H1214V1183.4H1211.4V1172.8H1208.8V1195.9H1206.2V1199.7H1203.6V1182.9H1201V1171.7H1198.4V1173.1H1195.8V1180.5H1193.2V1179.3H1190.6V1159.3H1188V1172.9H1185.4V1176.7H1182.8V1166.2H1180.2V1163.4H1177.6V1170.7H1175V1172.2H1172.4V1158.2H1169.8V1168.7H1167.2V1168.3H1164.6V1162.7H1162V1155.3H1159.4V1163.7H1156.8V1147.6H1154.2V1177.2H1151.6V1137.7H1149V1147.7H1146.4V1141.8H1143.8V1133.9H1141.2V1163.1H1138.6V1163.9H1136V1143.7H1133.4V1130.3H1130.8V1158.1H1128.2V1143.2H1125.6V1166.8H1123V1164H1120.4V1126H1117.8V1134.5H1115.2V1155.4H1112.6V1121.9H1110V1122.2H1107.4V1120.6H1104.8V1120.7H1102.2V1113.5H1099.6V1106.4H1097V1109.7H1094.4V1110.5H1091.8V1100.7H1089.2V1094.7H1086.6V1110.4H1084V1092.5H1081.4V1095.1H1078.8V1085.8H1076.2V1099.4H1073.6V1105.7H1071V1096.1H1068.4V1079.9H1065.8V1077.2H1063.2V1094.1H1060.6V1115.8H1058V1100.1H1055.4V1109H1052.8V1087.2H1050.2V1108.4H1047.6V1122H1045V1101H1042.4V1116.2H1039.8V1111.2H1037.2V1111H1034.6V1106H1032V1134.5H1029.4V1132.1H1026.8V1149.5H1024.2V1123.1H1021.6V1113.6H1019V1109.7H1016.4V1131.3H1013.8V1123.1H1011.2V1118.5H1008.6V1119.1H1006V1118.7H1003.4V1137.3H1000.8V1138.1H998.2V1141.4H995.6V1121.3H993V1115.8H990.4V1119.8H987.8V1128.7H985.2V1114.2H982.6V1134H980V1116.5H977.4V1121.3H974.8V1128H972.2V1125.3H969.6V1124.2H967V1115.7H964.4V1125.5H961.8V1128.5H959.2V1141.1H956.6V1127.3H954V1127.4H951.4V1128.9H948.8V1126.7H946.2V1143.8H943.6V1132.7H941V1127.6H938.4V1131.4H935.8V1136.2H933.2V1134.1H930.6V1128.9H928V1136.2H925.4V1128H922.8V1153.8H920.2V1149.4H917.6V1136.5H915V1143.6H912.4V1146H909.8V1131H907.2V1130.9H904.6V1126.2H902V1144.2H899.4V1135.5H896.8V1134.7H894.2V1134.2H891.6V1117.7H889V1128.2H886.4V1146.1H883.8V1130.8H881.2V1123.6H878.6V1140.6H876V1119.7H873.4V1126.3H870.8V1130H868.2V1142.5H865.6V1127.3H863V1125.7H860.4V1120.1H857.8V1143.3H855.2V1132.4H852.6V1126.1H850V1127.1H847.4V1127.1H844.8V1121.4H842.2V1128.7H839.6V1128.8H837V1117.9H834.4V1123.2H831.8V1137.1H829.2V1130.8H826.6V1120.6H824V1125.9H821.4V1123.5H818.8V1120.9H816.2V1121.8H813.6V1120.3H811V1110.8H808.4V1119.7H805.8V1133.1H803.2V1122.3H800.6V1113.4H798V1125.9H795.4V1112.1H792.8V1116.1H790.2V1147.1H787.6V1116.4H785V1129.4H782.4V1108.3H779.8V1113.6H777.2V1107.4H774.6V1107.8H772V1135.5H769.4V1120.8H766.8V1129.6H764.2V1134.7H761.6V1120H759V1117.2H756.4V1098.9H753.8V1102.4H751.2V1097H748.6V1105.4H746V1118.4H743.4V1126.2H740.8V1101.1H738.2V1115H735.6V1119.3H733V1118H730.4V1118.3H727.8V1108.8H725.2V1092.2H722.6V1101.7H720V1119.3H717.4V1108.6H714.8V1123.9H712.2V1116.1H709.6V1111.2H707V1112H704.4V1121.4H701.8V1114H699.2V1113.3H696.6V1113.3H694V1115.5H691.4V1111.7H688.8V1106H686.2V1120H683.6V1107.8H681V1111.8H678.4V1114H675.8V1113.2H673.2V1114.2H670.6V1119.2H668V1111.6H665.4V1108.7H662.8V1101.6H660.2V1106.8H657.6V1110.3H655V1112.8H652.4V1122.9H649.8V1116.9H647.2V1105.1H644.6V1105.6H642V1107.1H639.4V1103H636.8V1099.8H634.2V1094.9H631.6V1075.7H629V1051.8H626.4V1048.5H623.8V1032.3H621.2V1014.7H618.6V1004H616V997.2H613.4V987.5H610.8V960.3H608.2V974.1H605.6V961.6H603V969H600.4V940.2H597.8V956.9H595.2V961.6H592.6V975.2H590V974.5H587.4V1010.5H584.8V1030.9H582.2V1010.3H579.6V1038.2H577V1040.2H574.4V1041.8H571.8V1048.3H569.2V1052.8H566.6V1051.9H564V1084.7H561.4V1090.1H558.8V1083.5H556.2V1106.9H553.6V1086.7H551V1101.5H548.4V1104H545.8V1102.2H543.2V1113.4H540.6V1096.6H538V1124.5H535.4V1120H532.8V1123.2H530.2V1115.9H527.6V1128.7H525V1112.4H522.4V1139.8H519.8V1140.3H517.2V1134.5H514.6V1140.8H512V1154.2H509.4V1134.8H506.8V1158.1H504.2V1151.6H501.6V1156.5H499V1157.5H496.4V1152.3H493.8V1157.3H491.2V1167.8H488.6V1159.1H486V1163.2H483.4V1169.3H480.8V1173.5H478.2V1161.9H475.6V1165.1H473V1169.1H470.4V1168.8H467.8V1172.1H465.2V1179.3H462.6V1189.5H460V1181.6H457.4V1179.3H454.8V1172H452.2V1178.4H449.6V1182.4H447V1187.2H444.4V1174.8H441.8V1178.7H439.2V1176.6H436.6V1179.2H434V1184.9H431.4V1180H428.8V1190.1H426.2V1192.2H423.6V1187.7H421V1179.6H418.4V1176.7H415.8V1175.3H413.2V1177.6H410.6V1176.1H408V1181.5H405.4V1186.5H402.8V1204.3H400.2V1178.6H397.6V1179.5H395V1187H392.4V1187.9H389.8V1180.7H387.2V1188.2H384.6V1189.5H382V1181.3H379.4V1178.5H376.8V1178.2H374.2V1191.4H371.6V1176.3H369V1174H366.4V1180.9H363.8V1183.9H361.2V1181.3H358.6V1167H356V1171H353.4V1180.5H350.8V1171.9H348.2V1176.7H345.6V1183.1H343V1163H340.4V1167.1H337.8V1164.3H335.2V1185.8H332.6V1169.1H330V1166H327.4V1168.1H324.8V1171.8H322.2V1160.8H319.6V1152.9H317V1158.5H314.4V1158.1H311.8V1157.1H309.2V1144.3H306.6V1145.6H304V1143.5H301.4V1142.6H298.8V1141.6H296.2V1121.3H293.6V1122.1H291V1114.4H288.4V1129.2H285.8V1119.2H283.2V1107.5H280.6V1105.7H278V1112.6H275.4V1100H272.8V1099.5H270.2V1086.2H267.6V1093.6H265V1077.6H262.4V1077.2H259.8V1081.8H257.2V1067.4H254.6V1074.2H252V1074.2H249.4V1068.9H246.8V1061.2H244.2V1073.1H241.6V1046.5H239V1070.5H236.4V1037.2H233.8V1055.7H231.2V1061.4H228.6V1055.7H226V1044.6H223.4V1048.8H220.8V1049.2H218.2V1051.9H215.6V1058.9H213V1053.8H210.4V1043.3H207.8V1042.1H205.2V1045.4H202.6V1050.7H200V1053H197.4V1034.5H194.8V1038.5H192.2V1034.2H189.6V1050.7H187V1045.8H184.4V1044.6H181.8V1044.1H179.2V1038.3H176.6V1065.8H174V1043.5H171.4V1048.7H168.8V1048.8H166.2V1058.1H163.6V1063.2H161V1037H158.4V1032.8H155.8V1036.8H153.2V1045.4H150.6V1054.4H148Z"/>
<path fill="#008080" d="M148 1032.5H150.6V1020.5H153.2V1027.3H155.8V1039.8H158.4V1042.1H161V1021.8H163.6V1027.4H166.2V1016.9H168.8V1009.2H171.4V1046.9H174V1032.2H176.6V1034H179.2V1039H181.8V1020.4H184.4V995.1H187V1012.1H189.6V1050.2H192.2V1013.6H194.8V1041.2H197.4V1015.2H200V1010.9H202.6V1033.5H205.2V1035.5H207.8V1020.8H210.4V1035.7H213V1017.3H215.6V1028.2H218.2V1013.3H220.8V1016.6H223.4V1035.8H226V1035.4H228.6V1033.9H231.2V1024.8H233.8V1034.9H236.4V1027.6H239V1054H241.6V1029.2H244.2V1039H246.8V1054.3H249.4V1054.5H252V1064.8H254.6V1062.2H257.2V1073.4H259.8V1081.8H262.4V1064.7H265V1071.5H267.6V1107.1H270.2V1101.8H272.8V1102.6H275.4V1105.6H278V1118.3H280.6V1105.1H283.2V1105.8H285.8V1121.6H288.4V1108.7H291V1132.1H293.6V1135H296.2V1119.1H298.8V1125.2H301.4V1135.8H304V1136.3H306.6V1138.2H309.2V1158.9H311.8V1131H314.4V1137.1H317V1157.4H319.6V1154.5H322.2V1152.9H324.8V1153.9H327.4V1165.9H330V1153.8H332.6V1168.6H335.2V1167.4H337.8V1165.9H340.4V1143.5H343V1168.9H345.6V1182.7H348.2V1174H350.8V1175.7H353.4V1185.6H356V1194H358.6V1200.5H361.2V1197.2H363.8V1186.2H366.4V1195.9H369V1212.6H371.6V1198.3H374.2V1198.4H376.8V1201.4H379.4V1206.4H382V1210.7H384.6V1215.4H387.2V1211.3H389.8V1205.3H392.4V1208.1H395V1217H397.6V1221H400.2V1204.3H402.8V1219.6H405.4V1216.9H408V1210.7H410.6V1227.7H413.2V1223.5H415.8V1231.3H418.4V1229.8H421V1226.8H423.6V1223.1H426.2V1225.1H428.8V1234.4H431.4V1225H434V1225.3H436.6V1232.3H439.2V1217.3H441.8V1226.2H444.4V1214.9H447V1226.2H449.6V1230.5H452.2V1221H454.8V1228.4H457.4V1221.2H460V1224.5H462.6V1213.3H465.2V1239.1H467.8V1221.4H470.4V1223.2H473V1219.4H475.6V1223.9H478.2V1237.9H480.8V1229.4H483.4V1232.7H486V1218.2H488.6V1226.9H491.2V1219.8H493.8V1225.1H496.4V1228.5H499V1216.3H501.6V1218H504.2V1209.2H506.8V1220H509.4V1225.6H512V1230H514.6V1228.7H517.2V1208H519.8V1208.6H522.4V1222.7H525V1227.9H527.6V1222.4H530.2V1235.9H532.8V1229.5H535.4V1217.6H538V1220.4H540.6V1218.3H543.2V1218.8H545.8V1198.4H548.4V1224.5H551V1219H553.6V1213.3H556.2V1220.4H558.8V1220.9H561.4V1221.3H564V1216.2H566.6V1226.8H569.2V1226.8H571.8V1229.2H574.4V1211.4H577V1206H579.6V1210.1H582.2V1208.1H584.8V1215H587.4V1206.2H590V1212.7H592.6V1202.8H595.2V1216.1H597.8V1213.3H600.4V1196.3H603V1204H605.6V1208.5H608.2V1196.9H610.8V1202.1H613.4V1215.1H616V1210.5H618.6V1214.8H621.2V1217.9H623.8V1228.6H626.4V1219.2H629V1214H631.6V1217.2H634.2V1213.1H636.8V1201.5H639.4V1197H642V1192.1H644.6V1195.5H647.2V1200.4H649.8V1205.7H652.4V1204.7H655V1192.8H657.6V1201.9H660.2V1208.8H662.8V1202H665.4V1202.8H668V1207.3H670.6V1218.4H673.2V1218.7H675.8V1213.1H678.4V1197.7H681V1201.2H683.6V1211.3H686.2V1214H688.8V1197.8H691.4V1199.1H694V1203.1H696.6V1205.3H699.2V1202.7H701.8V1194.9H704.4V1197.6H707V1204H709.6V1195.8H712.2V1183.6H714.8V1175.5H717.4V1180.7H720V1185.7H722.6V1171H725.2V1179.5H727.8V1179.2H730.4V1209.4H727.8V1200.9H725.2V1196.8H722.6V1206.4H720V1206.5H717.4V1200.5H714.8V1210H712.2V1208.8H709.6V1221.1H707V1225.9H704.4V1222H701.8V1225.8H699.2V1221.8H696.6V1222.8H694V1238.4H691.4V1245.3H688.8V1243.1H686.2V1230.9H683.6V1242H681V1232.4H678.4V1228.4H675.8V1243.7H673.2V1236.5H670.6V1240.3H668V1225.7H665.4V1225.9H662.8V1229.3H660.2V1223.8H657.6V1224.3H655V1220.9H652.4V1231.2H649.8V1227H647.2V1236.6H644.6V1222.4H642V1238.7H639.4V1228.9H636.8V1244H634.2V1238.5H631.6V1246.9H629V1241.4H626.4V1245.4H623.8V1242.3H621.2V1237.9H618.6V1250.8H616V1243.8H613.4V1247.3H610.8V1218.6H608.2V1232.6H605.6V1236.5H603V1228.1H600.4V1247.2H597.8V1241.5H595.2V1247.3H592.6V1245.1H590V1239.1H587.4V1233.3H584.8V1237.5H582.2V1239.9H579.6V1230.5H577V1247.9H574.4V1242.4H571.8V1243H569.2V1254.7H566.6V1243.3H564V1257.7H561.4V1254.7H558.8V1241.4H556.2V1244.6H553.6V1236.3H551V1247.5H548.4V1250.3H545.8V1243.3H543.2V1234.3H540.6V1267.1H538V1257.5H535.4V1247.1H532.8V1248.5H530.2V1243.5H527.6V1248.8H525V1244.9H522.4V1245.2H519.8V1242.3H517.2V1249.3H514.6V1271H512V1250.2H509.4V1255H506.8V1247.1H504.2V1259.9H501.6V1256.4H499V1252.3H496.4V1248.6H493.8V1251.4H491.2V1239.7H488.6V1258.8H486V1249H483.4V1264.8H480.8V1257.8H478.2V1256.5H475.6V1260.5H473V1245.2H470.4V1254.8H467.8V1258.3H465.2V1257.3H462.6V1251H460V1243.2H457.4V1252.4H454.8V1241.9H452.2V1257.8H449.6V1263H447V1259.7H444.4V1260.2H441.8V1254.9H439.2V1251.6H436.6V1247.3H434V1247H431.4V1261.6H428.8V1254.1H426.2V1262.9H423.6V1256.7H421V1255.5H418.4V1256.4H415.8V1242.8H413.2V1264.9H410.6V1240.2H408V1251H405.4V1246.3H402.8V1237.3H400.2V1235.9H397.6V1243.1H395V1237.7H392.4V1237.7H389.8V1236H387.2V1247.7H384.6V1226.1H382V1242.3H379.4V1237.5H376.8V1233.6H374.2V1224.8H371.6V1237H369V1231.8H366.4V1218.9H363.8V1230.1H361.2V1212.4H358.6V1220.3H356V1217H353.4V1213.8H350.8V1216H348.2V1197.6H345.6V1194H343V1204.7H340.4V1198.3H337.8V1193.5H335.2V1192.6H332.6V1193.2H330V1201.7H327.4V1196.4H324.8V1189.6H322.2V1179.6H319.6V1170.4H317V1177H314.4V1171.3H311.8V1171.3H309.2V1175.6H306.6V1161.4H304V1175.8H301.4V1158.3H298.8V1150.6H296.2V1160.2H293.6V1164.3H291V1157.6H288.4V1147.8H285.8V1144.9H283.2V1138.8H280.6V1148.4H278V1129.4H275.4V1135.2H272.8V1140.6H270.2V1130H267.6V1121.8H265V1120.1H262.4V1137.1H259.8V1116.4H257.2V1107.6H254.6V1089.8H252V1122.8H249.4V1093.6H246.8V1077H244.2V1097.6H241.6V1096.4H239V1089.3H236.4V1103.1H233.8V1078.3H231.2V1093.2H228.6V1073.7H226V1078.5H223.4V1063.3H220.8V1065.1H218.2V1080.3H215.6V1076.2H213V1055H210.4V1069.4H207.8V1069.4H205.2V1067.3H202.6V1063.3H200V1074.7H197.4V1082.5H194.8V1067.3H192.2V1075.8H189.6V1070.7H187V1050.7H184.4V1076.6H181.8V1063.6H179.2V1074.4H176.6V1074.7H174V1087.4H171.4V1092H168.8V1067.1H166.2V1054H163.6V1058.6H161V1061.2H158.4V1092.7H155.8V1067.8H153.2V1083.3H150.6V1068.3H148ZM839.6 1150.3H842.2V1155.1H844.8V1155H847.4V1150H850V1139.1H852.6V1165.3H850V1173.9H847.4V1173.2H844.8V1188.9H842.2V1167.6H839.6ZM899.4 1155.4H902V1155.4H904.6V1174.3H907.2V1167.3H909.8V1167.1H912.4V1184.9H915V1178.6H917.6V1179.9H920.2V1190.8H922.8V1190.4H925.4V1178.5H928V1209.7H930.6V1194.4H933.2V1193.6H935.8V1207.1H938.4V1195H941V1203.9H943.6V1205.1H946.2V1195.3H948.8V1216.6H951.4V1202.2H954V1203.6H956.6V1201.2H959.2V1220.7H961.8V1221.2H964.4V1220.7H967V1203H969.6V1201.1H972.2V1224.1H974.8V1211.2H977.4V1215.1H980V1219.3H982.6V1228.5H985.2V1214.9H987.8V1223.7H990.4V1217.1H993V1209.2H995.6V1206.4H998.2V1226.7H1000.8V1227.7H1003.4V1228.2H1006V1225.2H1008.6V1222.8H1011.2V1227.9H1013.8V1219.3H1016.4V1219.7H1019V1223H1021.6V1224.2H1024.2V1210.9H1026.8V1219.8H1029.4V1225.8H1032V1218.3H1034.6V1225.8H1037.2V1214.5H1039.8V1212.8H1042.4V1226.9H1045V1228.8H1047.6V1223.8H1050.2V1228.2H1052.8V1219.7H1055.4V1230.5H1058V1231.8H1060.6V1223.7H1063.2V1237.4H1065.8V1230.9H1068.4V1225.7H1071V1222.1H1073.6V1222.8H1076.2V1227.5H1078.8V1214.9H1081.4V1211.7H1084V1237.6H1086.6V1229.8H1089.2V1236.6H1091.8V1211.4H1094.4V1224.8H1097V1236.6H1099.6V1232.8H1102.2V1231H1104.8V1237.4H1107.4V1232.7H1110V1234.7H1112.6V1241.5H1115.2V1231.4H1117.8V1235H1120.4V1236.4H1123V1224.6H1125.6V1233.5H1128.2V1240H1130.8V1239.3H1133.4V1236.9H1136V1242.1H1138.6V1230.7H1141.2V1243.2H1143.8V1240H1146.4V1235.6H1149V1233H1151.6V1237.9H1154.2V1246.2H1156.8V1238.9H1159.4V1250.7H1162V1238.8H1164.6V1236.4H1167.2V1238.6H1169.8V1222.2H1172.4V1219.4H1175V1252H1172.4V1245.8H1169.8V1257H1167.2V1256.8H1164.6V1253.1H1162V1274.9H1159.4V1269.4H1156.8V1266.1H1154.2V1268.2H1151.6V1265.5H1149V1267.6H1146.4V1255.9H1143.8V1266.2H1141.2V1267.3H1138.6V1274.6H1136V1271.6H1133.4V1254.8H1130.8V1273.9H1128.2V1257.5H1125.6V1256.2H1123V1261.5H1120.4V1260H1117.8V1251.9H1115.2V1261.4H1112.6V1263.4H1110V1254.5H1107.4V1266.9H1104.8V1268H1102.2V1254.2H1099.6V1272.9H1097V1272.7H1094.4V1264.3H1091.8V1256.5H1089.2V1253.2H1086.6V1256.2H1084V1246H1081.4V1239.3H1078.8V1254.9H1076.2V1252.9H1073.6V1249.5H1071V1248.6H1068.4V1257H1065.8V1269.2H1063.2V1241.9H1060.6V1247.3H1058V1258.1H1055.4V1256.4H1052.8V1246.5H1050.2V1251.4H1047.6V1261.4H1045V1246.9H1042.4V1244.7H1039.8V1253.1H1037.2V1250.5H1034.6V1256.9H1032V1249.8H1029.4V1243.4H1026.8V1257.3H1024.2V1259.8H1021.6V1262.4H1019V1255.7H1016.4V1244.7H1013.8V1250.7H1011.2V1250.2H1008.6V1250.9H1006V1247.4H1003.4V1245.1H1000.8V1250.2H998.2V1252.2H995.6V1239.2H993V1237.8H990.4V1265.6H987.8V1257.6H985.2V1252.1H982.6V1249.8H980V1236.8H977.4V1253.9H974.8V1250.7H972.2V1230.7H969.6V1253.7H967V1243.1H964.4V1250.4H961.8V1244.5H959.2V1251.9H956.6V1238.5H954V1238H951.4V1234.3H948.8V1252.1H946.2V1227.9H943.6V1228.5H941V1231H938.4V1227.6H935.8V1225.8H933.2V1225.6H930.6V1233H928V1212.2H925.4V1218.2H922.8V1227.6H920.2V1224.5H917.6V1217.7H915V1225.7H912.4V1211.1H909.8V1193.8H907.2V1197.2H904.6V1178.1H902V1181.5H899.4ZM1201 1225.4H1203.6V1232.3H1206.2V1227.3H1208.8V1228.9H1211.4V1242.8H1214V1236.5H1216.6V1235.9H1219.2V1228.6H1221.8V1239.9H1224.4V1247.4H1227V1238.8H1229.6V1240.4H1232.2V1238H1234.8V1237.4H1237.4V1234.8H1240V1236.9H1242.6V1226.3H1245.2V1239.1H1247.8V1245.3H1250.4V1249.3H1253V1248.3H1255.6V1248.5H1258.2V1254.3H1260.8V1244H1263.4V1239.2H1266V1236.4H1268.6V1244.8H1271.2V1252.2H1273.8V1252.5H1276.4V1253.7H1279V1263H1281.6V1250.1H1284.2V1242.6H1286.8V1247.1H1289.4V1260.4H1292V1260.3H1294.6V1254.7H1297.2V1264.3H1299.8V1259.4H1302.4V1258H1305V1258.2H1307.6V1254.6H1310.2V1250.3H1312.8V1243.5H1315.4V1250.5H1318V1242.8H1320.6V1254.2H1323.2V1261.3H1325.8V1251.1H1328.4V1253.6H1331V1242.5H1333.6V1254.8H1336.2V1254H1338.8V1248.8H1341.4V1252.2H1344V1240.7H1346.6V1246.4H1349.2V1253.9H1351.8V1244.8H1354.4V1251.5H1357V1247.3H1359.6V1248.7H1362.2V1239.2H1364.8V1241.2H1367.4V1254.1H1370V1242.7H1372.6V1244.3H1375.2V1245H1377.8V1243.8H1380.4V1250.7H1383V1232.3H1385.6V1239.1H1388.2V1226.2H1390.8V1247.9H1393.4V1249.1H1396V1242.4H1398.6V1249.2H1401.2V1245.4H1403.8V1239.8H1406.4V1243.2H1409V1246.3H1411.6V1251H1414.2V1237.4H1416.8V1224.8H1419.4V1228.5H1422V1240.8H1419.4V1245.5H1416.8V1258.9H1414.2V1273.1H1411.6V1266.9H1409V1262H1406.4V1264.3H1403.8V1264H1401.2V1265.1H1398.6V1269H1396V1267.6H1393.4V1272.4H1390.8V1264.2H1388.2V1277.1H1385.6V1264.6H1383V1278.1H1380.4V1267H1377.8V1266.2H1375.2V1264.5H1372.6V1267.8H1370V1269.4H1367.4V1265.6H1364.8V1274.4H1362.2V1267.2H1359.6V1272.3H1357V1274.6H1354.4V1276.6H1351.8V1268.5H1349.2V1272.9H1346.6V1268.7H1344V1262.7H1341.4V1275H1338.8V1282.8H1336.2V1287H1333.6V1270.2H1331V1271.8H1328.4V1283.1H1325.8V1278H1323.2V1281.3H1320.6V1271.2H1318V1274.2H1315.4V1276.8H1312.8V1276.9H1310.2V1283.3H1307.6V1278.6H1305V1274.9H1302.4V1275.7H1299.8V1281.6H1297.2V1281.3H1294.6V1286.6H1292V1274.5H1289.4V1274.2H1286.8V1269.1H1284.2V1289.4H1281.6V1279.3H1279V1294.2H1276.4V1268.3H1273.8V1271.6H1271.2V1265.4H1268.6V1261.1H1266V1269.2H1263.4V1274.2H1260.8V1277.1H1258.2V1276.9H1255.6V1261.2H1253V1271.3H1250.4V1264.3H1247.8V1276.1H1245.2V1263.8H1242.6V1268.9H1240V1265.1H1237.4V1261.8H1234.8V1268.1H1232.2V1252.5H1229.6V1256.5H1227V1266.8H1224.4V1263.2H1221.8V1268.6H1219.2V1255.8H1216.6V1261.7H1214V1258.3H1211.4V1259.8H1208.8V1257.1H1206.2V1261.3H1203.6V1255.4H1201ZM1455.8 1221.3H1458.4V1233.8H1461V1234.1H1463.6V1239.8H1466.2V1243.2H1468.8V1254.8H1471.4V1252.2H1474V1237.1H1476.6V1241.4H1479.2V1234.9H1481.8V1229.2H1484.4V1230.9H1487V1226.8H1489.6V1232H1492.2V1232.7H1494.8V1215.6H1497.4V1224.7H1500V1208.7H1502.6V1218.1H1505.2V1208H1507.8V1197.1H1510.4V1202.8H1513V1215.9H1515.6V1221.4H1518.2V1200H1520.8V1214.5H1523.4V1220.4H1526V1221.4H1528.6V1220.3H1531.2V1216.1H1533.8V1219.8H1536.4V1229.2H1539V1236.3H1541.6V1242.3H1544.2V1230.4H1546.8V1238.3H1549.4V1233.5H1552V1240.9H1554.6V1243.2H1557.2V1240.5H1559.8V1254H1562.4V1248H1565V1255.9H1567.6V1258H1570.2V1254.2H1572.8V1255.7H1575.4V1248.4H1578V1247.1H1580.6V1238.9H1583.2V1242H1585.8V1242.3H1588.4V1239.2H1591V1234.9H1593.6V1225.2H1596.2V1210.9H1598.8V1229.7H1596.2V1251H1593.6V1256.1H1591V1246.6H1588.4V1259H1585.8V1264.4H1583.2V1266.1H1580.6V1265.7H1578V1288.4H1575.4V1271.5H1572.8V1280.9H1570.2V1268.6H1567.6V1275.4H1565V1263.9H1562.4V1268H1559.8V1259.5H1557.2V1265.1H1554.6V1269.7H1552V1260.1H1549.4V1268.1H1546.8V1255.4H1544.2V1255.8H1541.6V1259H1539V1254.8H1536.4V1245.9H1533.8V1255.4H1531.2V1246.8H1528.6V1236.5H1526V1237H1523.4V1260H1520.8V1236.3H1518.2V1243H1515.6V1246.2H1513V1244.1H1510.4V1229.6H1507.8V1231.9H1505.2V1243.9H1502.6V1241.8H1500V1243.6H1497.4V1250.2H1494.8V1249.3H1492.2V1258.1H1489.6V1256.3H1487V1255.5H1484.4V1255H1481.8V1269.4H1479.2V1261.6H1476.6V1273.4H1474V1266.9H1471.4V1286.5H1468.8V1265.5H1466.2V1270.9H1463.6V1263.9H1461V1262.8H1458.4V1248.6H1455.8ZM1627.4 1232.1H1630V1244.1H1632.6V1247.1H1635.2V1252.1H1637.8V1249.3H1640.4V1246.1H1643V1260.4H1645.6V1246H1648.2V1264.5H1650.8V1248.3H1653.4V1268H1656V1266.7H1658.6V1263.6H1661.2V1263.5H1663.8V1268.5H1666.4V1262.8H1669V1267H1671.6V1261.4H1674.2V1275.3H1676.8V1257.5H1679.4V1258.3H1682V1250.7H1684.6V1259.9H1687.2V1242.9H1689.8V1256.4H1692.4V1251.8H1695V1251H1697.6V1249.7H1700.2V1249.5H1702.8V1265.9H1700.2V1268.8H1697.6V1273.2H1695V1273.2H1692.4V1285.3H1689.8V1295.3H1687.2V1271.7H1684.6V1279.2H1682V1283.8H1679.4V1286.1H1676.8V1284.7H1674.2V1289.2H1671.6V1282.1H1669V1288.4H1666.4V1286H1663.8V1278.9H1661.2V1278.6H1658.6V1294.4H1656V1284.7H1653.4V1285.4H1650.8V1287.7H1648.2V1282.2H1645.6V1290.9H1643V1282.6H1640.4V1271.3H1637.8V1268H1635.2V1268.3H1632.6V1271.7H1630V1258H1627.4ZM1715.8 1226.1H1718.4V1259.7H1721V1256.9H1723.6V1256H1726.2V1249.9H1728.8V1256.4H1731.4V1261.4H1734V1253.7H1736.6V1243.3H1739.2V1243.8H1741.8V1264.9H1739.2V1281H1736.6V1276.1H1734V1282.7H1731.4V1280H1728.8V1271.4H1726.2V1272.4H1723.6V1271.9H1721V1272.2H1718.4V1267H1715.8ZM1796.4 1239H1799V1233.4H1801.6V1236.4H1804.2V1245H1806.8V1246.5H1809.4V1253H1812V1259.7H1814.6V1258.5H1817.2V1261.8H1819.8V1270.5H1822.4V1262.3H1825V1275.1H1827.6V1273.4H1830.2V1264.8H1832.8V1273.1H1835.4V1276.6H1838V1273.5H1840.6V1268.2H1843.2V1279H1845.8V1267.2H1848.4V1259.7H1851V1269.8H1853.6V1263H1856.2V1277.4H1858.8V1254.2H1861.4V1259.4H1864V1268.6H1866.6V1275.3H1869.2V1270.9H1871.8V1249H1874.4V1263.5H1877V1264.5H1879.6V1271.8H1882.2V1270.5H1884.8V1270.6H1887.4V1272.7H1890V1272.6H1892.6V1274.3H1895.2V1278.2H1897.8V1274.8H1900.4V1269.8H1903V1273H1905.6V1270H1908.2V1277.3H1910.8V1286.3H1913.4V1274.3H1916V1272.7H1918.6V1283.9H1921.2V1283.9H1923.8V1278.1H1926.4V1281.5H1929V1273.5H1931.6V1271H1934.2V1278.5H1936.8V1278.9H1939.4V1263.8H1942V1270.9H1944.6V1283H1947.2V1282.4H1949.8V1269.5H1952.4V1270.3H1955V1276.4H1957.6V1276.3H1960.2V1272.9H1962.8V1272.5H1965.4V1283.9H1968V1276.3H1970.6V1267.7H1973.2V1272.3H1975.8V1279.4H1978.4V1270.7H1981V1278H1983.6V1272.5H1986.2V1277.8H1988.8V1247.6H1991.4V1264H1994V1263H1996.6V1258H1999.2V1257.6H2001.8V1237H2004.4V1245.3H2007V1249.3H2009.6V1254.3H2012.2V1259.3H2014.8V1261.8H2017.4V1262.1H2020V1263.4H2022.6V1267.4H2025.2V1269.4H2027.8V1277.5H2030.4V1272.7H2033V1268.1H2035.6V1278.5H2038.2V1281.7H2040.8V1263.6H2043.4V1265.4H2046V1271.9H2048.6V1280.8H2051.2V1276.6H2053.8V1277.1H2056.4V1268.7H2059V1273.7H2061.6V1278.7H2064.2V1268.4H2066.8V1262H2069.4V1268.5H2072V1275.8H2074.6V1270.7H2077.2V1278.8H2079.8V1276.8H2082V1289H2079.8V1308.7H2077.2V1299H2074.6V1294.1H2072V1293.1H2069.4V1300.9H2066.8V1291H2064.2V1293.7H2061.6V1296H2059V1296.3H2056.4V1290.2H2053.8V1292.1H2051.2V1288.5H2048.6V1309.8H2046V1300.2H2043.4V1294.2H2040.8V1297.6H2038.2V1296.1H2035.6V1297H2033V1289.6H2030.4V1289.3H2027.8V1284.1H2025.2V1290.9H2022.6V1286.8H2020V1284.9H2017.4V1279H2014.8V1276.4H2012.2V1278.2H2009.6V1264.7H2007V1269.6H2004.4V1266.6H2001.8V1280.4H1999.2V1276.9H1996.6V1279.2H1994V1287.3H1991.4V1284.4H1988.8V1292.5H1986.2V1297.2H1983.6V1297.9H1981V1296.7H1978.4V1296.5H1975.8V1297.6H1973.2V1295H1970.6V1289.2H1968V1300.4H1965.4V1298.4H1962.8V1303.2H1960.2V1302H1957.6V1295.2H1955V1297.3H1952.4V1309.1H1949.8V1294.9H1947.2V1298.9H1944.6V1295H1942V1297.1H1939.4V1295.9H1936.8V1307.6H1934.2V1292.9H1931.6V1298.3H1929V1303.3H1926.4V1304.3H1923.8V1296.1H1921.2V1299H1918.6V1303H1916V1304.1H1913.4V1303.6H1910.8V1301.8H1908.2V1285.8H1905.6V1299.6H1903V1286.6H1900.4V1300.6H1897.8V1292.6H1895.2V1282.2H1892.6V1280.8H1890V1288.1H1887.4V1294.5H1884.8V1283.8H1882.2V1296.7H1879.6V1293.7H1877V1293.1H1874.4V1286.1H1871.8V1288.6H1869.2V1289.2H1866.6V1285.9H1864V1296.2H1861.4V1284.7H1858.8V1290.4H1856.2V1287.1H1853.6V1283.2H1851V1286.2H1848.4V1289.4H1845.8V1299.3H1843.2V1297.9H1840.6V1297.5H1838V1288.8H1835.4V1291.3H1832.8V1284.7H1830.2V1290.9H1827.6V1288.4H1825V1288.3H1822.4V1290.3H1819.8V1289H1817.2V1278.3H1814.6V1281.3H1812V1292.6H1809.4V1273.1H1806.8V1272.1H1804.2V1274.3H1801.6V1256.9H1799V1258H1796.4Z"/>
<polyline fill="none" stroke="#008080" stroke-width="2.1" stroke-linejoin="round" points="728,1185.6 728.6,1179.2 729.1,1195.4 729.7,1185.3 730.3,1191.1 730.8,1173.9 731.4,1172.2 731.9,1173.8 732.5,1166.6 733,1164.9 733.6,1155.8 734.1,1162.4 734.7,1155.5 735.2,1155 735.8,1147.1 736.3,1138.1 736.9,1141 737.5,1137.5 738,1126.6 738.6,1121.5 739.1,1116 739.7,1108.6 740.2,1098.7 740.8,1092.6 741.3,1081.2 741.9,1068.2 742.4,1054.2 743,1040.2 743.5,1023.8 744.1,1003.9 744.7,982.1 745.2,956.6 745.8,928.9 746.3,896.8 746.9,862.2 747.4,822.2 748,777.8 748.5,730.1 749.1,679.4 749.6,626.4 750.2,573.5 750.8,523.8 751.3,480.8 751.9,448.1 752.4,429.2 752.8,426 753,426.7 753.5,441.1 754.1,470.4 754.6,511.4 755.2,560.7 755.7,614.5 756.3,669.3 756.8,723.2 757.4,773.9 758,821 758.5,863.8 759.1,902.6 759.6,937.1 760.2,968 760.7,995.2 761.3,1019.7 761.8,1040.8 762.4,1061.3 762.9,1077.3 763.5,1092.7 764,1105.9 764.6,1117.8 765.2,1129.1 765.7,1137.9 766.3,1146.4 766.8,1152.9 767.4,1160 767.9,1165.4 768.5,1175.5 769,1174.6 769.6,1179 770.1,1184.9 770.7,1190.4 771.2,1186.5 771.8,1188.8 772.4,1193.9 772.9,1195.4 773.5,1192.2 774,1191.5 774.6,1193.2 775.1,1196.4 775.7,1193.5 776.2,1193.8 776.8,1189.9 777.3,1187.6 777.9,1186 778.5,1180.9 779,1177.7 779.6,1170.8 780.1,1166.4 780.7,1162.7 781.2,1155.4 781.8,1148.1 782.3,1142.9 782.9,1135.4 783.4,1127.3 784,1119.1 784.5,1114.3 785.1,1110.6 785.7,1100.5 786.2,1095.6 786.8,1094.3 787,1093.6 787.3,1092.9 787.9,1093.9 788.4,1099.5 789,1103.2 789.5,1108.6 790.1,1113.1 790.6,1117.4 791.2,1125.5 791.7,1129 792.3,1135 792.9,1138.7 793.4,1148.4 794,1152.8 794.5,1153 795.1,1156.9 795.6,1161.1 796.2,1164.5 796.7,1169.4 797.3,1168.5 797.8,1171.6 798.4,1164.9 799,1171.2 799.5,1165.1 800.1,1182.8 800.6,1181.6 801.2,1178.7 801.7,1181 802.3,1185.7 802.8,1180.1 803.4,1166.4 803.9,1173.4 804.5,1161.4 805,1168.9 805.6,1165.9 806.2,1171.5 806.7,1172.5 807.3,1164.4 807.8,1166.2 808.4,1167.2 808.9,1163.1 809.5,1160.7 810,1148.1 810.6,1154.1 811.1,1156 811.7,1150 812.2,1139.1 812.8,1139.2 813.4,1135.7 813.9,1126.6 814.5,1123.8 815,1113.5 815.6,1106 816.1,1096.8 816.7,1088.3 817.2,1073.9 817.8,1060.1 818.3,1045.5 818.9,1027.6 819.4,1008.9 820,986.7 820.6,965 821.1,940.7 821.7,915.3 822.2,891.6 822.8,868.1 823.3,848.7 823.9,834 824.4,825.6 824.7,825.5 825,825.6 825.5,834.6 826.1,848.8 826.6,867.7 827.2,890 827.8,914.7 828.3,939 828.9,963.3 829.4,985.8 830,1006.1 830.5,1025 831.1,1042.4 831.6,1057.9 832.2,1069.6 832.7,1082.4 833.3,1091.7 833.9,1099.6 834.4,1111.4 835,1117.1 835.5,1122.9 836.1,1129.1 836.6,1132.3 837.2,1133.1 837.7,1148.2 838.3,1148.1 838.8,1148.4 839.4,1154.2 839.9,1158.1 840.5,1153 841.1,1158.6 841.6,1155.5 842.2,1161.7 842.7,1158 843.3,1173.1"/>
<polyline fill="none" stroke="#008080" stroke-width="2.1" stroke-linejoin="round" points="850.5,1149.2 851,1156 851.6,1149.3 852.1,1151.8 852.7,1155.4 853.2,1148.5 853.8,1144.2 854.4,1147.2 854.9,1143.8 855.5,1143.9 856,1125.9 856.6,1130.6 857.1,1123.9 857.7,1117.9 858.2,1116.4 858.8,1107.8 859.3,1099.9 859.9,1096.8 860.4,1091.1 861,1086.5 861.6,1074.4 862.1,1064.6 862.7,1053.7 863.2,1043.6 863.8,1030.8 864.3,1016.7 864.9,999.8 865.4,982.3 866,961.5 866.5,940 867.1,913.9 867.6,885 868.2,854 868.8,817.5 869.3,776.6 869.9,730.7 870.4,679.3 871,623.3 871.5,561.3 872.1,495.7 872.6,426.5 873.2,356.8 873.7,290.9 874.3,232.3 874.8,186 875.4,157.2 875.9,148.4 876,148.4 876.5,161.2 877.1,194.5 877.6,243.5 878.2,304.4 878.7,371.6 879.3,441.3 879.8,510.3 880.4,575.5 880.9,636.2 881.5,691.6 882,742.1 882.6,787.2 883.2,826.9 883.7,862.7 884.3,893.9 884.8,923.1 885.4,947.2 885.9,969.7 886.5,990.4 887,1007.2 887.6,1022.2 888.1,1036.8 888.7,1050 889.3,1063.5 889.8,1072.6 890.4,1081.5 890.9,1091.7 891.5,1100.6 892,1103.9 892.6,1115.5 893.1,1120.4 893.7,1125 894.2,1120 894.8,1134.1 895.3,1143.7 895.9,1140.4 896.5,1156.5 897,1149.2 897.6,1146.7 898.1,1158.3 898.7,1159.6 899.2,1165.5 899.8,1161.5 900.3,1173.7 900.9,1163.6 901.4,1170.3 902,1162.5 902.5,1167.4"/>
<polyline fill="none" stroke="#008080" stroke-width="2.1" stroke-linejoin="round" points="1171.8,1242.8 1172.3,1231.9 1172.9,1245.3 1173.5,1244.2 1174,1231.4 1174.6,1237.3 1175.1,1220.8 1175.7,1220.6 1176.2,1222.1 1176.8,1221.4 1177.3,1216.9 1177.9,1209.4 1178.4,1220.4 1179,1206.7 1179.5,1201.2 1180.1,1196.2 1180.7,1187.9 1181.2,1179.5 1181.8,1170.7 1182.3,1160.1 1182.9,1153.3 1183.4,1139.5 1184,1126.7 1184.5,1114.4 1185.1,1100.7 1185.6,1089.9 1186.2,1077.1 1186.8,1068.2 1187.3,1062.1 1187.9,1057.9 1188,1057.8 1188.4,1057.1 1189,1062.9 1189.5,1070.8 1190.1,1082.1 1190.6,1094 1191.2,1108.3 1191.7,1121.2 1192.3,1133.2 1192.8,1143.5 1193.4,1156.7 1194,1167 1194.5,1174.4 1195.1,1179.7 1195.6,1190.6 1196.2,1199.1 1196.7,1193.3 1197.3,1208.9 1197.8,1200.3 1198.4,1214.7 1198.9,1228.4 1199.5,1221.3 1200,1226.4 1200.6,1223.9 1201.2,1228.1 1201.7,1244.6 1202.3,1240.2 1202.8,1231.6 1203.4,1232.7 1203.9,1236.5"/>
<polyline fill="none" stroke="#008080" stroke-width="2.1" stroke-linejoin="round" points="1418.9,1239.3 1419.4,1234.5 1420,1234.6 1420.5,1234 1421.1,1230 1421.6,1235.3 1422.2,1229.6 1422.8,1223.3 1423.3,1222 1423.9,1223.7 1424.4,1219 1425,1217.2 1425.5,1207.2 1426.1,1203.8 1426.6,1204.6 1427.2,1192.8 1427.7,1190.4 1428.3,1181.5 1428.8,1171.8 1429.4,1162.3 1430,1155 1430.5,1143 1431.1,1131 1431.6,1116.9 1432.2,1103 1432.7,1085.2 1433.3,1065.9 1433.8,1044.6 1434.4,1021 1434.9,995.5 1435.5,968.7 1436,941 1436.6,913.5 1437.2,889.6 1437.7,868.9 1438.3,854.3 1438.8,848.4 1439,846.3 1439.4,847.7 1439.9,859.1 1440.5,875.9 1441,897.9 1441.6,924 1442.1,951.7 1442.7,978.7 1443.3,1005.8 1443.8,1031.3 1444.4,1054.1 1444.9,1074.4 1445.5,1093.3 1446,1109.4 1446.6,1124.8 1447.1,1137.8 1447.7,1148.9 1448.2,1158.9 1448.8,1171.9 1449.3,1178 1449.9,1183.4 1450.5,1191 1451,1201.9 1451.6,1208.5 1452.1,1206 1452.7,1213.4 1453.2,1220.4 1453.8,1218.7 1454.3,1217.9 1454.9,1221.6 1455.4,1229.4 1456,1227.6 1456.5,1226.9 1457.1,1235 1457.7,1243.6 1458.2,1244 1458.8,1240.5 1459.3,1254.1"/>
<polyline fill="none" stroke="#008080" stroke-width="2.1" stroke-linejoin="round" points="1594.5,1233.6 1595,1235.2 1595.6,1233.1 1596.2,1228.6 1596.7,1227.8 1597.3,1228.4 1597.8,1217.5 1598.4,1221 1598.9,1221.9 1599.5,1218.9 1600,1215.5 1600.6,1220.9 1601.1,1209.1 1601.7,1201.2 1602.2,1196.2 1602.8,1190.9 1603.4,1185.4 1603.9,1176.9 1604.5,1171.5 1605,1159.4 1605.6,1151.3 1606.1,1140.3 1606.7,1127.3 1607.2,1115.5 1607.8,1101.7 1608.3,1086.8 1608.9,1073.5 1609.5,1058.8 1610,1045.5 1610.6,1034.6 1611.1,1026.4 1611.7,1022.8 1612,1022 1612.2,1021 1612.8,1025.5 1613.3,1033.6 1613.9,1044.5 1614.4,1057.5 1615,1071.7 1615.5,1087 1616.1,1102 1616.7,1115.9 1617.2,1128 1617.8,1141.7 1618.3,1153.7 1618.9,1163.6 1619.4,1173.4 1620,1181.7 1620.5,1186.5 1621.1,1190.6 1621.6,1203.9 1622.2,1206.2 1622.7,1214.4 1623.3,1216.2 1623.9,1220.8 1624.4,1231.6 1625,1222.7 1625.5,1231.7 1626.1,1228.7 1626.6,1237.5 1627.2,1242.1 1627.7,1245.2 1628.3,1244.5 1628.8,1238.2 1629.4,1248.6"/>
<polyline fill="none" stroke="#008080" stroke-width="2.1" stroke-linejoin="round" points="1700.9,1262 1701.4,1257.8 1702,1252.5 1702.5,1254.4 1703.1,1250.8 1703.6,1253.4 1704.2,1248.8 1704.7,1241.6 1705.3,1240.6 1705.8,1238.2 1706.4,1239 1707,1235.8 1707.5,1227.7 1708.1,1227.3 1708.6,1226.4 1709.2,1226.8 1709.7,1222.4 1710.3,1227.3 1710.5,1221 1710.8,1223.6 1711.4,1221.4 1711.9,1221.1 1712.5,1227.6 1713,1232.1 1713.6,1235 1714.2,1237.9 1714.7,1239.2 1715.3,1240.1 1715.8,1245.6 1716.4,1252.3 1716.9,1257.4 1717.5,1238.4 1718,1260.1 1718.6,1264.4 1719.1,1267 1719.7,1264"/>
<polyline fill="none" stroke="#008080" stroke-width="2.1" stroke-linejoin="round" points="1738,1265.8 1738.5,1266 1739.1,1248.6 1739.6,1250.1 1740.2,1258.8 1740.8,1254 1741.3,1249.4 1741.9,1244.2 1742.4,1244.2 1743,1235.9 1743.5,1244.4 1744.1,1227.3 1744.6,1221.3 1745.2,1223 1745.7,1221 1746.3,1210.8 1746.8,1205.3 1747.4,1197 1748,1190.5 1748.5,1180.9 1749.1,1171.4 1749.6,1160.6 1750.2,1149.6 1750.7,1138.3 1751.3,1124 1751.8,1110.1 1752.4,1096.7 1752.9,1081.9 1753.5,1069.1 1754,1058.9 1754.6,1049.8 1755.2,1046.2 1755.5,1046 1755.7,1044.2 1756.3,1047.8 1756.8,1055.7 1757.4,1064 1757.9,1075.8 1758.5,1089 1759,1102.2 1759.6,1115.4 1760.1,1129.4 1760.7,1140.4 1761.2,1152.1 1761.8,1161.7 1762.4,1170.9 1762.9,1177.7 1763.5,1187.9 1764,1192.3 1764.6,1201.4 1765.1,1200.7 1765.7,1206.7 1766.2,1213.3 1766.8,1215.5 1767.3,1215.7 1767.9,1219.8 1768.5,1217.6 1769,1224.2 1769.6,1215.1 1770.1,1227 1770.7,1232.4 1771.2,1231 1771.8,1231 1772.3,1225.6 1772.9,1228.8 1773.4,1224.5 1774,1224.7 1774.5,1223.3 1775.1,1209.1 1775.7,1223.3 1776.2,1219 1776.8,1217.4 1777.3,1208.2 1777.9,1209.7 1778.4,1204.8 1779,1192.7 1779.5,1189.5 1780.1,1188.2 1780.6,1181 1781.2,1176.1 1781.7,1169 1782.3,1166.5 1782.9,1155.2 1783.4,1151.5 1784,1148.8 1784.5,1146.1 1785,1147 1785.1,1148 1785.6,1146.9 1786.2,1152.8 1786.7,1158.7 1787.3,1163.4 1787.8,1170.8 1788.4,1176 1788.9,1180.8 1789.5,1190.7 1790.1,1195.2 1790.6,1204.2 1791.2,1204.8 1791.7,1203.8 1792.3,1210.8 1792.8,1220.3 1793.4,1225.9 1793.9,1226 1794.5,1235.4 1795,1226.9 1795.6,1232 1796.2,1243.6 1796.7,1240.7 1797.3,1242.9 1797.8,1251.9 1798.4,1251.8 1798.9,1243 1799.5,1249.8"/>
<path fill="#b312b3" d="M148.3 1411H151.5V1006H148.3Z"/>
<path fill="#ff00ff" d="M148 994.1H150.6V986.4H153.2V943H155.8V936.7H158.4V930.8H161V922.3H163.6V904.3H166.2V901.6H168.8V916.5H171.4V912.3H174V906.9H176.6V882.7H179.2V878.4H181.8V876.8H184.4V859.8H187V860.5H189.6V857.4H192.2V837.7H194.8V861.4H197.4V864H200V863H202.6V852.8H205.2V882.2H207.8V880.7H210.4V874.9H213V887.2H215.6V896.7H218.2V880.7H220.8V896.7H223.4V896.7H226V936H228.6V950.5H231.2V933.3H233.8V939.8H236.4V945.7H239V954.3H241.6V976.1H244.2V1002.1H246.8V1012.8H249.4V1024.9H252V1043.1H254.6V1037.4H257.2V1055.6H259.8V1068H262.4V1079.5H265V1093.6H267.6V1096.8H270.2V1113.2H272.8V1119H275.4V1118.3H278V1138.2H280.6V1163.6H283.2V1166.5H285.8V1166.6H288.4V1179.2H291V1183.8H293.6V1199.3H296.2V1215.1H298.8V1226.7H301.4V1226.7H304V1234H306.6V1234.7H309.2V1233.8H311.8V1241H314.4V1253H317V1246.9H319.6V1255.7H322.2V1265.6H324.8V1267.4H327.4V1283H330V1268.1H332.6V1291.7H335.2V1286.4H337.8V1290.2H340.4V1292.7H343V1298.2H345.6V1302.6H348.2V1307.4H350.8V1309H353.4V1304.3H356V1299H358.6V1306.8H361.2V1309.6H363.8V1315.8H366.4V1316.4H369V1315.9H371.6V1323.2H374.2V1320.5H376.8V1325.3H379.4V1322.5H382V1327.2H384.6V1322H387.2V1318.4H389.8V1326.3H392.4V1329.6H395V1326.2H397.6V1328.6H400.2V1329.5H402.8V1335H405.4V1340.9H408V1333.5H410.6V1340.1H413.2V1340.5H415.8V1341.9H418.4V1332.8H421V1333.9H423.6V1344.3H426.2V1341.5H428.8V1343.9H431.4V1339.5H434V1343.1H436.6V1347.5H439.2V1339.7H441.8V1343.6H444.4V1351.8H447V1344.5H449.6V1332.7H452.2V1346.7H454.8V1336H457.4V1346.7H460V1344.6H462.6V1348.3H465.2V1343.2H467.8V1334.4H470.4V1337.7H473V1350.1H475.6V1337.7H478.2V1344.9H480.8V1339.5H483.4V1349H486V1341.5H488.6V1341.5H491.2V1334.4H493.8V1343.2H496.4V1346.8H499V1346H501.6V1342.3H504.2V1350.1H506.8V1347.8H509.4V1350H512V1347.9H514.6V1345.3H517.2V1344.1H519.8V1340.6H522.4V1347.1H525V1351.7H527.6V1343.3H530.2V1342.9H532.8V1347.7H535.4V1342.8H538V1351.6H540.6V1348.1H543.2V1346.5H545.8V1351.2H548.4V1347.7H551V1353.4H553.6V1337.2H556.2V1349.5H558.8V1348H561.4V1348.5H564V1341.5H566.6V1348.4H569.2V1351.4H571.8V1351.1H574.4V1344.2H577V1350.9H579.6V1349.1H582.2V1346.7H584.8V1341.7H587.4V1346.3H590V1350.8H592.6V1344.2H595.2V1342.1H597.8V1340.9H600.4V1341.5H603V1341.5H605.6V1343.9H608.2V1342H610.8V1336.1H613.4V1339.1H616V1338.6H618.6V1337.1H621.2V1338.1H623.8V1341.3H626.4V1331.3H629V1331.1H631.6V1342.7H634.2V1338.9H636.8V1339H639.4V1332.3H642V1339.9H644.6V1329.4H647.2V1337.8H649.8V1335.5H652.4V1338.9H655V1328.5H657.6V1328H660.2V1330.4H662.8V1326.4H665.4V1325H668V1321.6H670.6V1337.4H673.2V1331.6H675.8V1333.8H678.4V1333.7H681V1325H683.6V1318.9H686.2V1323.9H688.8V1320.5H691.4V1318.8H694V1308.8H696.6V1323.6H699.2V1317.8H701.8V1319.7H704.4V1311H707V1324.2H709.6V1315.3H712.2V1316.3H714.8V1300.2H717.4V1295.3H720V1292.6H722.6V1290.9H725.2V1307.1H722.6V1310.3H720V1320.1H717.4V1319.9H714.8V1327.8H712.2V1331.4H709.6V1338.6H707V1337.1H704.4V1333.6H701.8V1338H699.2V1344.1H696.6V1331.9H694V1340.7H691.4V1338.4H688.8V1344H686.2V1334.3H683.6V1337.5H681V1348.4H678.4V1348.7H675.8V1347.5H673.2V1347.6H670.6V1350.7H668V1343.7H665.4V1350.1H662.8V1342.8H660.2V1348.3H657.6V1347.7H655V1348.3H652.4V1344.8H649.8V1354H647.2V1345.6H644.6V1353.7H642V1355.3H639.4V1346.6H636.8V1354.7H634.2V1356.6H631.6V1350.4H629V1346.6H626.4V1358.8H623.8V1353.3H621.2V1349.3H618.6V1363.6H616V1355.2H613.4V1359.3H610.8V1350.1H608.2V1362.8H605.6V1363.5H603V1353.1H600.4V1361.9H597.8V1358.8H595.2V1363.4H592.6V1361.5H590V1357.3H587.4V1354.6H584.8V1356.9H582.2V1363.4H579.6V1359.7H577V1359.1H574.4V1364H571.8V1363.9H569.2V1357.6H566.6V1359.3H564V1371.2H561.4V1362.1H558.8V1369H556.2V1369.1H553.6V1362.2H551V1361.8H548.4V1364.6H545.8V1360.8H543.2V1365.6H540.6V1363.1H538V1365.9H535.4V1362.1H532.8V1362.3H530.2V1361.4H527.6V1364.5H525V1360.9H522.4V1365.5H519.8V1355.7H517.2V1360H514.6V1366.4H512V1367H509.4V1357.7H506.8V1360.5H504.2V1359.2H501.6V1357.8H499V1359.8H496.4V1357.5H493.8V1368.1H491.2V1367.9H488.6V1362.4H486V1365H483.4V1361.1H480.8V1362.2H478.2V1362.2H475.6V1359.3H473V1357.3H470.4V1354.6H467.8V1358.2H465.2V1358.8H462.6V1355.9H460V1356.9H457.4V1363.9H454.8V1362.6H452.2V1366.2H449.6V1360.8H447V1358.6H444.4V1358.9H441.8V1360.5H439.2V1369.6H436.6V1366.1H434V1360H431.4V1364.4H428.8V1363H426.2V1364H423.6V1363.4H421V1361.1H418.4V1358.5H415.8V1356.5H413.2V1354.6H410.6V1361.7H408V1358.2H405.4V1357.5H402.8V1347.4H400.2V1350.1H397.6V1342.8H395V1353.9H392.4V1341.6H389.8V1339.9H387.2V1344.4H384.6V1345.3H382V1335.3H379.4V1343.7H376.8V1336.5H374.2V1340.8H371.6V1336.2H369V1337.7H366.4V1334.8H363.8V1329.2H361.2V1330.1H358.6V1333.7H356V1317.6H353.4V1320.7H350.8V1321.6H348.2V1318.9H345.6V1324.5H343V1323.3H340.4V1318.4H337.8V1304.7H335.2V1307.4H332.6V1298.3H330V1291.3H327.4V1294.1H324.8V1278.3H322.2V1282.5H319.6V1274.5H317V1279.1H314.4V1268.8H311.8V1279.6H309.2V1272.2H306.6V1255.8H304V1256.2H301.4V1249.7H298.8V1249H296.2V1228.9H293.6V1212.8H291V1195.8H288.4V1210H285.8V1183.9H283.2V1186.4H280.6V1190.5H278V1161.5H275.4V1140.4H272.8V1143.6H270.2V1124.6H267.6V1129.4H265V1113.8H262.4V1107.8H259.8V1106.9H257.2V1107.9H254.6V1073.5H252V1048.7H249.4V1042.7H246.8V1042.8H244.2V1053.2H241.6V1019.4H239V1035.1H236.4V991.5H233.8V978.2H231.2V984.4H228.6V972.9H226V938.2H223.4V923.9H220.8V918.8H218.2V922.5H215.6V914.6H213V909.3H210.4V896.1H207.8V943.9H205.2V934.2H202.6V910.2H200V902.1H197.4V922.9H194.8V891.5H192.2V906.5H189.6V914.4H187V931.5H184.4V917.8H181.8V918.3H179.2V935.9H176.6V942.6H174V944.7H171.4V964H168.8V957.8H166.2V963.2H163.6V948.9H161V966.9H158.4V991.9H155.8V992.1H153.2V1021.7H150.6V1019.9H148ZM777.2 1275.2H779.8V1286.4H782.4V1285H785V1296H787.6V1293.3H790.2V1293.3H792.8V1302.9H795.4V1297.1H798V1294.4H800.6V1288.1H803.2V1308.4H800.6V1308.3H798V1311.4H795.4V1312H792.8V1312H790.2V1310.7H787.6V1306.5H785V1303.6H782.4V1299.2H779.8V1288.6H777.2ZM907.2 1304.7H909.8V1310.5H912.4V1311.5H915V1307.5H917.6V1310.9H920.2V1313.7H922.8V1317.2H925.4V1320.4H928V1323.4H930.6V1327.7H933.2V1321.7H935.8V1327.2H938.4V1323.1H941V1327.5H943.6V1333.5H946.2V1338.8H948.8V1343.1H951.4V1332.7H954V1331.6H956.6V1343.7H959.2V1345.4H961.8V1341.9H964.4V1336.9H967V1339.9H969.6V1343.4H972.2V1347.9H974.8V1342.7H977.4V1337.3H980V1337.7H982.6V1344.7H985.2V1336.8H987.8V1340.1H990.4V1333.6H993V1345.1H995.6V1335.8H998.2V1339.8H1000.8V1341.4H1003.4V1337.3H1006V1341H1008.6V1335.8H1011.2V1337.9H1013.8V1338.2H1016.4V1335.2H1019V1340.2H1021.6V1346.1H1024.2V1346H1026.8V1341H1029.4V1338.1H1032V1340.2H1034.6V1335.9H1037.2V1345.3H1039.8V1341.4H1042.4V1342.6H1045V1342.6H1047.6V1346.7H1050.2V1348.4H1052.8V1348.5H1055.4V1351.4H1058V1351.8H1060.6V1349.4H1063.2V1342.3H1065.8V1342.7H1068.4V1341.4H1071V1344.6H1073.6V1343.3H1076.2V1347.9H1078.8V1351.5H1081.4V1336.2H1084V1342.8H1086.6V1346.2H1089.2V1350.9H1091.8V1352H1094.4V1347.5H1097V1347.4H1099.6V1353.4H1102.2V1341.7H1104.8V1346.9H1107.4V1353H1110V1351.3H1112.6V1352.9H1115.2V1350.2H1117.8V1351.3H1120.4V1352H1123V1351.1H1125.6V1347.9H1128.2V1349.9H1130.8V1344.7H1133.4V1353.3H1136V1354.5H1138.6V1354.6H1141.2V1355.7H1143.8V1355.5H1146.4V1351.8H1149V1352.4H1151.6V1354.7H1154.2V1356.9H1156.8V1351.7H1159.4V1350.3H1162V1347.1H1164.6V1340.9H1167.2V1332.1H1169.8V1322.1H1172.4V1341.5H1169.8V1349.5H1167.2V1360.4H1164.6V1360.3H1162V1360.7H1159.4V1362.3H1156.8V1362.8H1154.2V1368.4H1151.6V1367.8H1149V1370.2H1146.4V1368H1143.8V1362.2H1141.2V1364.1H1138.6V1375.1H1136V1367.2H1133.4V1364.1H1130.8V1366H1128.2V1377.5H1125.6V1371.5H1123V1362.3H1120.4V1371.3H1117.8V1367.4H1115.2V1365.7H1112.6V1365H1110V1367.6H1107.4V1372.8H1104.8V1365.1H1102.2V1363.5H1099.6V1363H1097V1365.5H1094.4V1367.4H1091.8V1364.7H1089.2V1354.9H1086.6V1364.3H1084V1360H1081.4V1365.1H1078.8V1360.7H1076.2V1354.7H1073.6V1361.8H1071V1360.7H1068.4V1369.2H1065.8V1366.9H1063.2V1366.9H1060.6V1357.6H1058V1363.3H1055.4V1364.8H1052.8V1357.8H1050.2V1360.3H1047.6V1353.2H1045V1353.3H1042.4V1358.6H1039.8V1360.1H1037.2V1369.4H1034.6V1356.2H1032V1353.6H1029.4V1351.1H1026.8V1361.6H1024.2V1360H1021.6V1356H1019V1354H1016.4V1356.2H1013.8V1357.4H1011.2V1351.6H1008.6V1354.3H1006V1350.8H1003.4V1353.5H1000.8V1357.7H998.2V1354H995.6V1366.2H993V1351.5H990.4V1357.2H987.8V1356.3H985.2V1354.4H982.6V1365.4H980V1360.4H977.4V1357.5H974.8V1355H972.2V1359.9H969.6V1361.7H967V1361.2H964.4V1358.2H961.8V1359.4H959.2V1359.9H956.6V1356.2H954V1348.3H951.4V1351.4H948.8V1352.2H946.2V1347.7H943.6V1342.2H941V1342.5H938.4V1336.4H935.8V1341.7H933.2V1337.3H930.6V1342.4H928V1335.1H925.4V1327.2H922.8V1328.6H920.2V1328.2H917.6V1319.2H915V1323.1H912.4V1324.6H909.8V1313H907.2ZM1206.2 1322.1H1208.8V1326.7H1211.4V1341.1H1214V1341.3H1216.6V1345H1219.2V1352.5H1221.8V1347.5H1224.4V1352.8H1227V1350.8H1229.6V1353H1232.2V1359.1H1234.8V1349H1237.4V1353.7H1240V1357.5H1242.6V1355.1H1245.2V1361.6H1247.8V1362.1H1250.4V1364.2H1253V1363.8H1255.6V1361.1H1258.2V1362.1H1260.8V1366H1263.4V1364.8H1266V1363.8H1268.6V1367.3H1271.2V1365.2H1273.8V1367.7H1276.4V1361.4H1279V1368.6H1281.6V1366.7H1284.2V1363.9H1286.8V1363.2H1289.4V1367.3H1292V1365.4H1294.6V1367.7H1297.2V1370.8H1299.8V1368H1302.4V1363.8H1305V1366.3H1307.6V1367.6H1310.2V1369.1H1312.8V1369.1H1315.4V1365.7H1318V1371.8H1320.6V1369.1H1323.2V1363.8H1325.8V1371.7H1328.4V1367.6H1331V1368.2H1333.6V1369.6H1336.2V1366.5H1338.8V1373.1H1341.4V1368.8H1344V1367.8H1346.6V1369.7H1349.2V1368.5H1351.8V1368.9H1354.4V1362.7H1357V1365.6H1359.6V1365.6H1362.2V1365.5H1364.8V1365.3H1367.4V1361.5H1370V1367H1372.6V1370.7H1375.2V1365.5H1377.8V1368.8H1380.4V1369.1H1383V1369.9H1385.6V1368.7H1388.2V1369.9H1390.8V1372.5H1393.4V1367.1H1396V1372.1H1398.6V1367.8H1401.2V1366H1403.8V1364.4H1406.4V1362.6H1409V1357.3H1411.6V1347.5H1414.2V1338.6H1416.8V1328H1419.4V1347.8H1416.8V1350.6H1414.2V1359.5H1411.6V1365.7H1409V1371.4H1406.4V1377.4H1403.8V1375.5H1401.2V1376.6H1398.6V1377.4H1396V1380.3H1393.4V1380.1H1390.8V1381.4H1388.2V1381.1H1385.6V1379.2H1383V1377.5H1380.4V1381.5H1377.8V1378.9H1375.2V1379.2H1372.6V1377.3H1370V1376.7H1367.4V1377.6H1364.8V1383.1H1362.2V1378.9H1359.6V1382.2H1357V1373H1354.4V1377.7H1351.8V1381.2H1349.2V1382.3H1346.6V1378.3H1344V1383.3H1341.4V1385H1338.8V1385.6H1336.2V1380H1333.6V1381.6H1331V1378.2H1328.4V1378.8H1325.8V1381.3H1323.2V1378.8H1320.6V1384.1H1318V1378.1H1315.4V1379.4H1312.8V1378.6H1310.2V1381.7H1307.6V1379.3H1305V1379.6H1302.4V1380H1299.8V1383.1H1297.2V1382H1294.6V1380.1H1292V1378.1H1289.4V1387.5H1286.8V1383H1284.2V1378.6H1281.6V1382.1H1279V1378.3H1276.4V1383.7H1273.8V1375.2H1271.2V1380H1268.6V1374H1266V1378.4H1263.4V1378.3H1260.8V1375.6H1258.2V1374H1255.6V1370.2H1253V1374.6H1250.4V1373.3H1247.8V1374.2H1245.2V1375.5H1242.6V1370.1H1240V1370.7H1237.4V1375.8H1234.8V1368.8H1232.2V1374.6H1229.6V1371H1227V1369.9H1224.4V1363.2H1221.8V1364.8H1219.2V1359.3H1216.6V1355.6H1214V1348.5H1211.4V1349H1208.8V1336.7H1206.2ZM1461 1317.2H1463.6V1328.9H1466.2V1337.6H1468.8V1348.2H1471.4V1350.9H1474V1352.5H1476.6V1356.7H1479.2V1354.7H1481.8V1358.3H1484.4V1359.8H1487V1362.3H1489.6V1363H1492.2V1362.7H1494.8V1360.5H1497.4V1364.4H1500V1364.7H1502.6V1365.9H1505.2V1361.8H1507.8V1358.3H1510.4V1365.4H1513V1366.7H1515.6V1365.4H1518.2V1362H1520.8V1364.1H1523.4V1364.5H1526V1365.3H1528.6V1365.4H1531.2V1358.6H1533.8V1361.7H1536.4V1366.3H1539V1360.1H1541.6V1364.8H1544.2V1365.2H1546.8V1367.2H1549.4V1365.6H1552V1362.9H1554.6V1366.6H1557.2V1369.2H1559.8V1368.3H1562.4V1366.3H1565V1369.4H1567.6V1367.6H1570.2V1366.8H1572.8V1365.2H1575.4V1365.5H1578V1364.4H1580.6V1361.5H1583.2V1354.5H1585.8V1351.9H1588.4V1340.6H1591V1334.1H1593.6V1350.3H1591V1354.9H1588.4V1362.4H1585.8V1363.7H1583.2V1371.3H1580.6V1370.9H1578V1373.3H1575.4V1381.2H1572.8V1379.7H1570.2V1377.8H1567.6V1379.7H1565V1379.9H1562.4V1377.3H1559.8V1377.8H1557.2V1378.9H1554.6V1378.5H1552V1379.9H1549.4V1379.8H1546.8V1371.8H1544.2V1373.2H1541.6V1373.7H1539V1376.7H1536.4V1372.3H1533.8V1373.2H1531.2V1377H1528.6V1380.8H1526V1371.3H1523.4V1376.6H1520.8V1376.3H1518.2V1376.2H1515.6V1376.3H1513V1375.5H1510.4V1379.5H1507.8V1371.3H1505.2V1373.6H1502.6V1376H1500V1374.2H1497.4V1372.8H1494.8V1370.7H1492.2V1374.4H1489.6V1371.6H1487V1370.3H1484.4V1371H1481.8V1369.5H1479.2V1369.4H1476.6V1361.9H1474V1362.5H1471.4V1356.8H1468.8V1355.3H1466.2V1350.1H1463.6V1334.2H1461ZM1630 1324.7H1632.6V1328.7H1635.2V1340.2H1637.8V1341.6H1640.4V1352.6H1643V1352.8H1645.6V1352.5H1648.2V1358.2H1650.8V1358.9H1653.4V1356.3H1656V1358.2H1658.6V1359.9H1661.2V1361.1H1663.8V1365.4H1666.4V1368.4H1669V1364.6H1671.6V1362.8H1674.2V1366.5H1676.8V1365.6H1679.4V1364.9H1682V1367.3H1684.6V1361.1H1687.2V1358H1689.8V1357.5H1692.4V1353.7H1695V1355.2H1697.6V1346.1H1700.2V1342.9H1702.8V1357.7H1700.2V1365.8H1697.6V1366.8H1695V1364.1H1692.4V1370H1689.8V1367.9H1687.2V1370.2H1684.6V1375.1H1682V1377.2H1679.4V1378.6H1676.8V1380.6H1674.2V1378.9H1671.6V1382.1H1669V1381.1H1666.4V1378H1663.8V1377.4H1661.2V1373.3H1658.6V1375.6H1656V1373.5H1653.4V1365.9H1650.8V1367.7H1648.2V1367.9H1645.6V1362H1643V1361.4H1640.4V1354.8H1637.8V1352.5H1635.2V1355.2H1632.6V1335.6H1630ZM1718.4 1340.2H1721V1350.2H1723.6V1351.8H1726.2V1351.2H1728.8V1343.2H1731.4V1344.7H1734V1340H1736.6V1327.7H1739.2V1342.2H1736.6V1350.5H1734V1359H1731.4V1357.6H1728.8V1360.5H1726.2V1357.4H1723.6V1358.7H1721V1352.5H1718.4ZM1796.4 1337.4H1799V1344.7H1801.6V1358.3H1804.2V1357.5H1806.8V1360.2H1809.4V1363.3H1812V1366.3H1814.6V1367H1817.2V1372.4H1819.8V1376.8H1822.4V1373.8H1825V1381.6H1827.6V1378H1830.2V1372.4H1832.8V1377.3H1835.4V1378.2H1838V1380.1H1840.6V1379.7H1843.2V1380.4H1845.8V1373.4H1848.4V1376.3H1851V1377.4H1853.6V1373H1856.2V1374.3H1858.8V1372.4H1861.4V1373.1H1864V1374.8H1866.6V1373.2H1869.2V1372.9H1871.8V1368.2H1874.4V1364.2H1877V1358.8H1879.6V1353.8H1882.2V1357.6H1884.8V1361.3H1887.4V1370.3H1890V1373.4H1892.6V1373.4H1895.2V1378.7H1897.8V1380H1900.4V1381.4H1903V1374.6H1905.6V1379.8H1908.2V1383H1910.8V1383.4H1913.4V1381.4H1916V1382.9H1918.6V1381.9H1921.2V1383.3H1923.8V1382.4H1926.4V1379.9H1929V1378.6H1931.6V1377.7H1934.2V1383.2H1936.8V1384.4H1939.4V1382.6H1942V1382.2H1944.6V1383.2H1947.2V1381.9H1949.8V1375.1H1952.4V1382.4H1955V1379.6H1957.6V1382.8H1960.2V1381.9H1962.8V1381H1965.4V1379.5H1968V1379.1H1970.6V1383.1H1973.2V1380.6H1975.8V1379.9H1978.4V1379.9H1981V1377.1H1983.6V1374.2H1986.2V1372.4H1988.8V1372.9H1991.4V1373.6H1994V1367.5H1996.6V1360H1999.2V1359.6H2001.8V1352.2H2004.4V1350.7H2007V1348.5H2009.6V1356H2012.2V1362.5H2014.8V1369.1H2017.4V1375.5H2020V1374.1H2022.6V1379.3H2025.2V1378.9H2027.8V1375.4H2030.4V1383.3H2033V1382.4H2035.6V1383.7H2038.2V1383.4H2040.8V1384H2043.4V1383H2046V1386H2048.6V1383.9H2051.2V1386.1H2053.8V1386.6H2056.4V1385.2H2059V1382.9H2061.6V1382.6H2064.2V1385.1H2066.8V1381H2069.4V1383.7H2072V1384H2074.6V1385.6H2077.2V1386.4H2079.8V1382.4H2082V1395.4H2079.8V1398H2077.2V1396H2074.6V1394.8H2072V1395.3H2069.4V1395.9H2066.8V1397.4H2064.2V1396.4H2061.6V1391.6H2059V1394.6H2056.4V1392.4H2053.8V1394.9H2051.2V1394.4H2048.6V1392.8H2046V1392H2043.4V1392.3H2040.8V1391.7H2038.2V1391.2H2035.6V1389.3H2033V1391.8H2030.4V1385.8H2027.8V1389H2025.2V1388.1H2022.6V1388H2020V1383.5H2017.4V1379H2014.8V1371.3H2012.2V1367.3H2009.6V1361.3H2007V1361.2H2004.4V1362H2001.8V1370.3H1999.2V1373.3H1996.6V1376.8H1994V1378.4H1991.4V1381H1988.8V1389.8H1986.2V1387.2H1983.6V1386.3H1981V1391.1H1978.4V1390.6H1975.8V1392.9H1973.2V1389.5H1970.6V1387.6H1968V1388.9H1965.4V1386.7H1962.8V1391.8H1960.2V1393.7H1957.6V1393.1H1955V1393.3H1952.4V1392.4H1949.8V1393.4H1947.2V1395.2H1944.6V1394.8H1942V1394.6H1939.4V1390.5H1936.8V1391.3H1934.2V1388.7H1931.6V1390.8H1929V1388.8H1926.4V1392.4H1923.8V1394.4H1921.2V1392H1918.6V1391.9H1916V1391.8H1913.4V1391.2H1910.8V1391H1908.2V1386.5H1905.6V1388.7H1903V1394.8H1900.4V1388.3H1897.8V1387.1H1895.2V1386.4H1892.6V1382.9H1890V1380.1H1887.4V1373.5H1884.8V1365.5H1882.2V1364.3H1879.6V1369.2H1877V1376H1874.4V1378.4H1871.8V1380.7H1869.2V1383.2H1866.6V1383.1H1864V1383.9H1861.4V1383.9H1858.8V1385.4H1856.2V1384.1H1853.6V1383.1H1851V1383.4H1848.4V1384.3H1845.8V1388.5H1843.2V1385.3H1840.6V1388.9H1838V1389.3H1835.4V1388H1832.8V1384H1830.2V1384.7H1827.6V1387.4H1825V1385.7H1822.4V1385.6H1819.8V1382.6H1817.2V1378.1H1814.6V1378.4H1812V1374.9H1809.4V1372.8H1806.8V1373.5H1804.2V1365H1801.6V1363.4H1799V1353.5H1796.4Z"/>
<polyline fill="none" stroke="#ff00ff" stroke-width="2.9" stroke-linejoin="round" points="722.5,1301.6 723.1,1301.9 723.6,1299 724.2,1295.6 724.7,1295.1 725.3,1292.6 725.8,1288.8 726.4,1288.1 726.9,1285.4 727.5,1281.7 728,1279.8 728.6,1274.6 729.1,1273 729.7,1268.5 730.3,1264.1 730.8,1260.4 731.4,1257.5 731.9,1251.6 732.5,1246.9 733,1241.6 733.6,1236 734.1,1230.9 734.7,1225.1 735.2,1217.9 735.8,1210.3 736.3,1202.7 736.9,1194.1 737.5,1185.2 738,1175.6 738.6,1165.9 739.1,1154.7 739.7,1142.9 740.2,1130.5 740.8,1117.2 741.3,1102.9 741.9,1087.7 742.4,1071.6 743,1054.5 743.5,1036.2 744.1,1017.3 744.7,997.3 745.2,976.6 745.8,955.5 746.3,933.8 746.9,912 747.4,890.5 748,869.6 748.5,849.8 749.1,831.6 749.6,815.6 750.2,802.2 750.8,791.9 751.3,785.1 751.9,782 752,782 752.4,783.2 753,787.7 753.5,796.1 754.1,807.8 754.6,822.4 755.2,839.4 755.7,858.3 756.3,878.4 756.8,899.5 757.4,921 758,942.7 758.5,964.1 759.1,984.8 759.6,1004.9 760.2,1024.3 760.7,1042.7 761.3,1060.2 761.8,1076.8 762.4,1092.2 762.9,1106.9 763.5,1120.5 764,1133.1 764.6,1145 765.2,1156 765.7,1166.6 766.3,1176.3 766.8,1185.4 767.4,1193.4 767.9,1201.2 768.5,1208.7 769,1215.8 769.6,1221.9 770.1,1227.8 770.7,1232.8 771.2,1238.6 771.8,1243.5 772.4,1247.1 772.9,1253 773.5,1255.2 774,1260.1 774.6,1262.8 775.1,1266.3 775.7,1268.7 776.2,1271.7 776.8,1275.3 777.3,1277.1 777.9,1279.3 778.5,1282.5 779,1284.4 779.6,1285.8 780.1,1287.7"/>
<polyline fill="none" stroke="#ff00ff" stroke-width="2.9" stroke-linejoin="round" points="800.6,1298.2 801.2,1294.4 801.7,1293.7 802.3,1292.3 802.8,1291.2 803.4,1289.8 803.9,1287.3 804.5,1284.4 805,1281.6 805.6,1279.4 806.2,1276.5 806.7,1273.6 807.3,1269.7 807.8,1267.1 808.4,1262.3 808.9,1258.5 809.5,1253.7 810,1248.4 810.6,1243.2 811.1,1237.3 811.7,1230.9 812.2,1224.1 812.8,1216.4 813.4,1208.5 813.9,1199.5 814.5,1189.6 815,1179.1 815.6,1168.1 816.1,1155.8 816.7,1142.7 817.2,1128.5 817.8,1113.3 818.3,1097.2 818.9,1080.2 819.4,1062.1 820,1043.2 820.6,1023.9 821.1,1004 821.7,984.3 822.2,965 822.8,946.5 823.3,929.6 823.9,914.7 824.4,902.6 825,893.8 825.5,888.5 826,887 826.1,887.1 826.6,889.4 827.2,896.1 827.8,905.8 828.3,918.7 828.9,934.1 829.4,951.4 830,969.9 830.5,989.2 831.1,1008.7 831.6,1028.2 832.2,1047.1 832.7,1065.3 833.3,1082.8 833.9,1099.2 834.4,1114.6 835,1129 835.5,1142.3 836.1,1154.7 836.6,1166 837.2,1176.5 837.7,1186 838.3,1194.7 838.8,1202.8 839.4,1210 839.9,1216.6 840.5,1222.5 841.1,1227.9 841.6,1232.8 842.2,1236.9 842.7,1240.8 843.3,1244.1 843.8,1247.1 844.4,1249.7 844.9,1251.7 845.5,1253.7 846,1255 846.6,1256.2 847.1,1257 847.7,1257.5 848.3,1257.9 848.8,1257.8 849.4,1257.4 849.9,1256.8 850.5,1255.6 851,1254.6 851.6,1252.9 852.1,1251.1 852.7,1249 853.2,1246.4 853.8,1243.7 854.4,1240.6 854.9,1237.2 855.5,1233.4 856,1229.1 856.6,1224.5 857.1,1219.6 857.7,1214 858.2,1208.1 858.8,1201.6 859.3,1194.6 859.9,1186.9 860.4,1178.6 861,1169.7 861.6,1160.1 862.1,1149.6 862.7,1138.2 863.2,1125.9 863.8,1112.7 864.3,1098.3 864.9,1082.9 865.4,1066.1 866,1048.1 866.5,1028.6 867.1,1007.6 867.6,985.2 868.2,960.9 868.8,935.1 869.3,907.4 869.9,878.1 870.4,847.1 871,814.4 871.5,780.5 872.1,745.4 872.6,709.6 873.2,673.7 873.7,638.1 874.3,603.8 874.8,571.7 875.4,542.6 876,517.6 876.5,497.5 877.1,483.3 877.6,475.5 878,474 878.2,474.4 878.7,480.2 879.3,492.6 879.8,511 880.4,534.8 880.9,563.1 881.5,594.7 882,628.8 882.6,664.5 883.2,700.9 883.7,737.4 884.3,773.3 884.8,808.4 885.4,842 885.9,874.2 886.5,904.9 887,933.7 887.6,960.9 888.1,986.3 888.7,1010.1 889.3,1032.4 889.8,1053.1 890.4,1072.3 890.9,1090.2 891.5,1106.9 892,1122.5 892.6,1136.9 893.1,1150.3 893.7,1162.8 894.2,1174.5 894.8,1185.3 895.3,1195.5 895.9,1204.9 896.5,1213.7 897,1222.1 897.6,1229.8 898.1,1237.2 898.7,1243.9 899.2,1250.2 899.8,1256.4 900.3,1261.9 900.9,1267.3 901.4,1272.2 902,1276.9 902.5,1281.6 903.1,1285.7 903.7,1289.8 904.2,1293.3 904.8,1296.5 905.3,1299.5 905.9,1302.3 906.4,1304.7 907,1306.7 907.5,1308.6 908.1,1309.5 908.6,1311.2 909.2,1311.6 909.8,1312.6 910.3,1315 910.9,1314.8 911.4,1314.2"/>
<polyline fill="none" stroke="#ff00ff" stroke-width="2.9" stroke-linejoin="round" points="1169,1338.1 1169.6,1337.9 1170.1,1336.2 1170.7,1334 1171.2,1334.4 1171.8,1333 1172.3,1326.9 1172.9,1326.7 1173.5,1322.5 1174,1321.1 1174.6,1314.4 1175.1,1312.8 1175.7,1310.5 1176.2,1305 1176.8,1302.2 1177.3,1296.4 1177.9,1292.5 1178.4,1286.9 1179,1280.7 1179.5,1274.6 1180.1,1268.4 1180.7,1262 1181.2,1254.4 1181.8,1246.6 1182.3,1239.6 1182.9,1230.3 1183.4,1222.2 1184,1213.8 1184.5,1205 1185.1,1197 1185.6,1189.1 1186.2,1181.7 1186.8,1175.7 1187.3,1170.1 1187.9,1166.2 1188.4,1164.3 1189,1162.7 1189,1163.2 1189.5,1164 1190.1,1166.2 1190.6,1169.8 1191.2,1174.6 1191.7,1180.5 1192.3,1187.8 1192.8,1195.6 1193.4,1203.5 1194,1211.8 1194.5,1220.6 1195.1,1228.6 1195.6,1237.1 1196.2,1244.8 1196.7,1252 1197.3,1260.2 1197.8,1266.8 1198.4,1273.2 1198.9,1278.3 1199.5,1284.5 1200,1290 1200.6,1294.2 1201.2,1300.5 1201.7,1301.9 1202.3,1308 1202.8,1309.4 1203.4,1313 1203.9,1316.3 1204.5,1321.2 1205,1322.5 1205.6,1325 1206.1,1327.1 1206.7,1328.4 1207.2,1331.2 1207.8,1332.9 1208.4,1335.7 1208.9,1337.2"/>
<polyline fill="none" stroke="#ff00ff" stroke-width="2.9" stroke-linejoin="round" points="1416.1,1344.5 1416.7,1343.8 1417.2,1342.3 1417.8,1338.4 1418.3,1337 1418.9,1335 1419.4,1331.7 1420,1328.9 1420.5,1326.6 1421.1,1323.5 1421.6,1320.1 1422.2,1317.4 1422.8,1313.7 1423.3,1309.5 1423.9,1305.1 1424.4,1300.6 1425,1296.2 1425.5,1290.9 1426.1,1285.9 1426.6,1280.1 1427.2,1273.6 1427.7,1267.3 1428.3,1260.5 1428.8,1252.9 1429.4,1244.9 1430,1236.6 1430.5,1227.7 1431.1,1218.4 1431.6,1208.5 1432.2,1198.1 1432.7,1187.4 1433.3,1176.2 1433.8,1164.5 1434.4,1152.7 1434.9,1140.8 1435.5,1128.9 1436,1117.3 1436.6,1106 1437.2,1095.5 1437.7,1085.8 1438.3,1077.5 1438.8,1070.6 1439.4,1065 1439.9,1061.3 1440.5,1060 1440.6,1060 1441,1060.6 1441.6,1063 1442.1,1067.4 1442.7,1073.7 1443.3,1081.1 1443.8,1090.1 1444.4,1100.1 1444.9,1110.8 1445.5,1122.2 1446,1133.8 1446.6,1145.5 1447.1,1157.2 1447.7,1168.8 1448.2,1180 1448.8,1190.8 1449.3,1201.1 1449.9,1210.9 1450.5,1220.4 1451,1229.3 1451.6,1238 1452.1,1245.3 1452.7,1253.3 1453.2,1260.1 1453.8,1266.6 1454.3,1272.6 1454.9,1278.2 1455.4,1283.4 1456,1288.2 1456.5,1294.1 1457.1,1298.1 1457.7,1302.1 1458.2,1305.8 1458.8,1308.4 1459.3,1312.5 1459.9,1315.9 1460.4,1319.4 1461,1321 1461.5,1324.3 1462.1,1326.5 1462.6,1328.9 1463.2,1330.6 1463.8,1333.4 1464.3,1335.1 1464.9,1335.4 1465.4,1339.6"/>
<polyline fill="none" stroke="#ff00ff" stroke-width="2.9" stroke-linejoin="round" points="1590.6,1346 1591.2,1346.1 1591.7,1342.5 1592.3,1341 1592.8,1338.4 1593.4,1337.2 1593.9,1333.9 1594.5,1332.2 1595,1328.3 1595.6,1325.7 1596.2,1322.7 1596.7,1319.2 1597.3,1314.5 1597.8,1310.9 1598.4,1306.7 1598.9,1301.4 1599.5,1297.4 1600,1292 1600.6,1286.4 1601.1,1280 1601.7,1273.9 1602.2,1267.2 1602.8,1260 1603.4,1252.1 1603.9,1244.2 1604.5,1236 1605,1226.9 1605.6,1217.9 1606.1,1208.6 1606.7,1199.2 1607.2,1190 1607.8,1181.1 1608.3,1172.2 1608.9,1164.2 1609.5,1157.1 1610,1150.8 1610.6,1145.8 1611.1,1142.2 1611.7,1140.4 1612,1140 1612.2,1140.2 1612.8,1141.5 1613.3,1144.5 1613.9,1148.5 1614.4,1154.6 1615,1161.3 1615.5,1169 1616.1,1177.3 1616.7,1186.2 1617.2,1195.1 1617.8,1204.3 1618.3,1213.2 1618.9,1222.1 1619.4,1230.9 1620,1239.1 1620.5,1246.8 1621.1,1254.4 1621.6,1261.3 1622.2,1268.1 1622.7,1274.4 1623.3,1280.6 1623.9,1285.9 1624.4,1291.4 1625,1296.3 1625.5,1299.4 1626.1,1304.3 1626.6,1307.8 1627.2,1310.6 1627.7,1314.3 1628.3,1317.8 1628.8,1322.2 1629.4,1323.8 1630,1326.1 1630.5,1328.6 1631.1,1330.2 1631.6,1333.1 1632.2,1334.8 1632.7,1335 1633.3,1337.8"/>
<polyline fill="none" stroke="#ff00ff" stroke-width="2.9" stroke-linejoin="round" points="1699.8,1350.6 1700.3,1352.5 1700.9,1353.2 1701.4,1351.7 1702,1346.3 1702.5,1349 1703.1,1342.6 1703.6,1340.2 1704.2,1337.8 1704.7,1337 1705.3,1332.6 1705.8,1329.5 1706.4,1323 1707,1321 1707.5,1317 1708.1,1313.8 1708.6,1309.6 1709.2,1307.8 1709.7,1304.7 1710.3,1303.3 1710.5,1303.1 1710.8,1304.9 1711.4,1305.8 1711.9,1307.1 1712.5,1311.2 1713,1313.9 1713.6,1317.7 1714.2,1320.7 1714.7,1325.1 1715.3,1329.2 1715.8,1332.7 1716.4,1335.2 1716.9,1339.4 1717.5,1342.4 1718,1342.5 1718.6,1345.7 1719.1,1345.5 1719.7,1349.1 1720.3,1348.8 1720.8,1350.9"/>
<polyline fill="none" stroke="#ff00ff" stroke-width="2.9" stroke-linejoin="round" points="1736.9,1340.3 1737.4,1338.8 1738,1335.2 1738.5,1334.5 1739.1,1332.5 1739.6,1332 1740.2,1328.9 1740.8,1326.5 1741.3,1323.7 1741.9,1320.4 1742.4,1318.3 1743,1314 1743.5,1309.9 1744.1,1307.2 1744.6,1303.4 1745.2,1298.7 1745.7,1294.2 1746.3,1289.6 1746.8,1284.6 1747.4,1278.8 1748,1273.3 1748.5,1266.9 1749.1,1261 1749.6,1253.7 1750.2,1247.3 1750.7,1240.3 1751.3,1233.2 1751.8,1226 1752.4,1219.4 1752.9,1212.6 1753.5,1206.1 1754,1200.4 1754.6,1195.3 1755.2,1191.1 1755.7,1187.5 1756.3,1185.2 1756.8,1184.2 1757,1184 1757.4,1184.5 1757.9,1185.2 1758.5,1187.6 1759,1191 1759.6,1194.8 1760.1,1199.9 1760.7,1205.3 1761.2,1211.2 1761.8,1217.7 1762.4,1223.7 1762.9,1230.3 1763.5,1236.5 1764,1243 1764.6,1249.3 1765.1,1254.9 1765.7,1260.7 1766.2,1265.5 1766.8,1270.9 1767.3,1275 1767.9,1279 1768.5,1283.6 1769,1286.4 1769.6,1289.7 1770.1,1292.3 1770.7,1294.9 1771.2,1296.7 1771.8,1297.9 1772.3,1299.9 1772.9,1301 1773.4,1301.7 1774,1301.9 1774.5,1302.8 1775.1,1301.4 1775.7,1301.2 1776.2,1300.3 1776.8,1298.5 1777.3,1296.8 1777.9,1295.6 1778.4,1293.3 1779,1290.5 1779.5,1287.1 1780.1,1284.6 1780.6,1281.6 1781.2,1278.6 1781.7,1275.8 1782.3,1272.7 1782.9,1270.5 1783.4,1268.8 1784,1266.4 1784.5,1267 1785,1266.9 1785.1,1267.3 1785.6,1268.5 1786.2,1270.3 1786.7,1273.2 1787.3,1277.3 1787.8,1281.1 1788.4,1286 1788.9,1290.3 1789.5,1296 1790.1,1299.9 1790.6,1305.7 1791.2,1309 1791.7,1314 1792.3,1318.5 1792.8,1321 1793.4,1324.8 1793.9,1329.1 1794.5,1332.8 1795,1336 1795.6,1338.2 1796.2,1341.1 1796.7,1341.7 1797.3,1344.5 1797.8,1348.2 1798.4,1348.2 1798.9,1350.2 1799.5,1350.2"/>
<path d="M283.4 1406V1395.8 M422.0 1406V1382.5 M560.5 1406V1395.8 M699.1 1406V1382.5 M837.7 1406V1395.8 M976.2 1406V1382.5 M1114.8 1406V1395.8 M1253.3 1406V1382.5 M1391.8 1406V1395.8 M1530.4 1406V1382.5 M1669.0 1406V1395.8 M1807.5 1406V1382.5 M1946.0 1406V1395.8 M151 1296.0H162.2 M151 1182.5H176.0 M151 1069.0H162.2 M151 955.5H176.0 M151 842.0H162.2 M151 728.5H176.0 M151 615.0H162.2 M151 501.5H176.0 M151 388.0H162.2 M151 274.5H176.0 M151 161.0H162.2" stroke="#000" stroke-width="7" stroke-linecap="round" fill="none"/>
<text x="422.0" y="1486" font-size="62.5" text-anchor="middle">20</text>
<text x="699.1" y="1486" font-size="62.5" text-anchor="middle">30</text>
<text x="976.2" y="1486" font-size="62.5" text-anchor="middle">40</text>
<text x="1253.3" y="1486" font-size="62.5" text-anchor="middle">50</text>
<text x="1530.4" y="1486" font-size="62.5" text-anchor="middle">60</text>
<text x="1807.5" y="1486" font-size="62.5" text-anchor="middle">70</text>
<text x="2084.6" y="1486" font-size="62.5" text-anchor="middle">80</text>
<text x="904" y="1574" font-size="74.5">2<tspan font-family="'Liberation Serif', serif" font-weight="normal" font-size="72">θ</tspan><tspan x="1002" font-family="'Liberation Serif', serif" font-weight="normal" font-size="62">(</tspan><tspan x="1022">degree)</tspan></text>
<text transform="translate(80.5,977.5) rotate(-90)" font-size="77" textLength="500" lengthAdjust="spacingAndGlyphs">Intensity (a.u.)</text>
<text transform="translate(758.7,392.5) rotate(-90)" font-size="66" textLength="146" lengthAdjust="spacingAndGlyphs">(100)</text>
<text transform="translate(967.6,393.5) rotate(-90)" font-size="66" textLength="146" lengthAdjust="spacingAndGlyphs">(101)</text>
<text transform="translate(840.4,779.5) rotate(-90)" font-size="66" textLength="146" lengthAdjust="spacingAndGlyphs">(002)</text>
<text transform="translate(1217,1005) rotate(-90)" font-size="66" textLength="146" lengthAdjust="spacingAndGlyphs">(102)</text>
<text transform="translate(1454.9,833.3) rotate(-90)" font-size="66" textLength="146" lengthAdjust="spacingAndGlyphs">(110)</text>
<text transform="translate(1631.2,983) rotate(-90)" font-size="66" textLength="146" lengthAdjust="spacingAndGlyphs">(103)</text>
<rect x="1458.5" y="64.5" width="597" height="417" fill="#fff" stroke="#333" stroke-width="3"/>
<line x1="1466" y1="107.6" x2="1624" y2="107.6" stroke="#000000" stroke-width="2.2"/>
<text x="1644" y="131.6" font-size="69">GO</text>
<line x1="1466" y1="191.4" x2="1624" y2="191.4" stroke="#ff0000" stroke-width="2.2"/>
<text x="1644" y="215.4" font-size="69">GO-ZnO</text>
<line x1="1466" y1="275.2" x2="1624" y2="275.2" stroke="#0000ff" stroke-width="2.2"/>
<text x="1644" y="299.2" font-size="69">GO-CS</text>
<line x1="1466" y1="359.0" x2="1624" y2="359.0" stroke="#008080" stroke-width="2.2"/>
<text x="1625" y="383.0" font-size="69">GO@CS/ZnO</text>
<line x1="1466" y1="442.8" x2="1624" y2="442.8" stroke="#ff00ff" stroke-width="2.2"/>
<text x="1622.5" y="466.8" font-size="69">ZnO</text>
</svg></body></html>
